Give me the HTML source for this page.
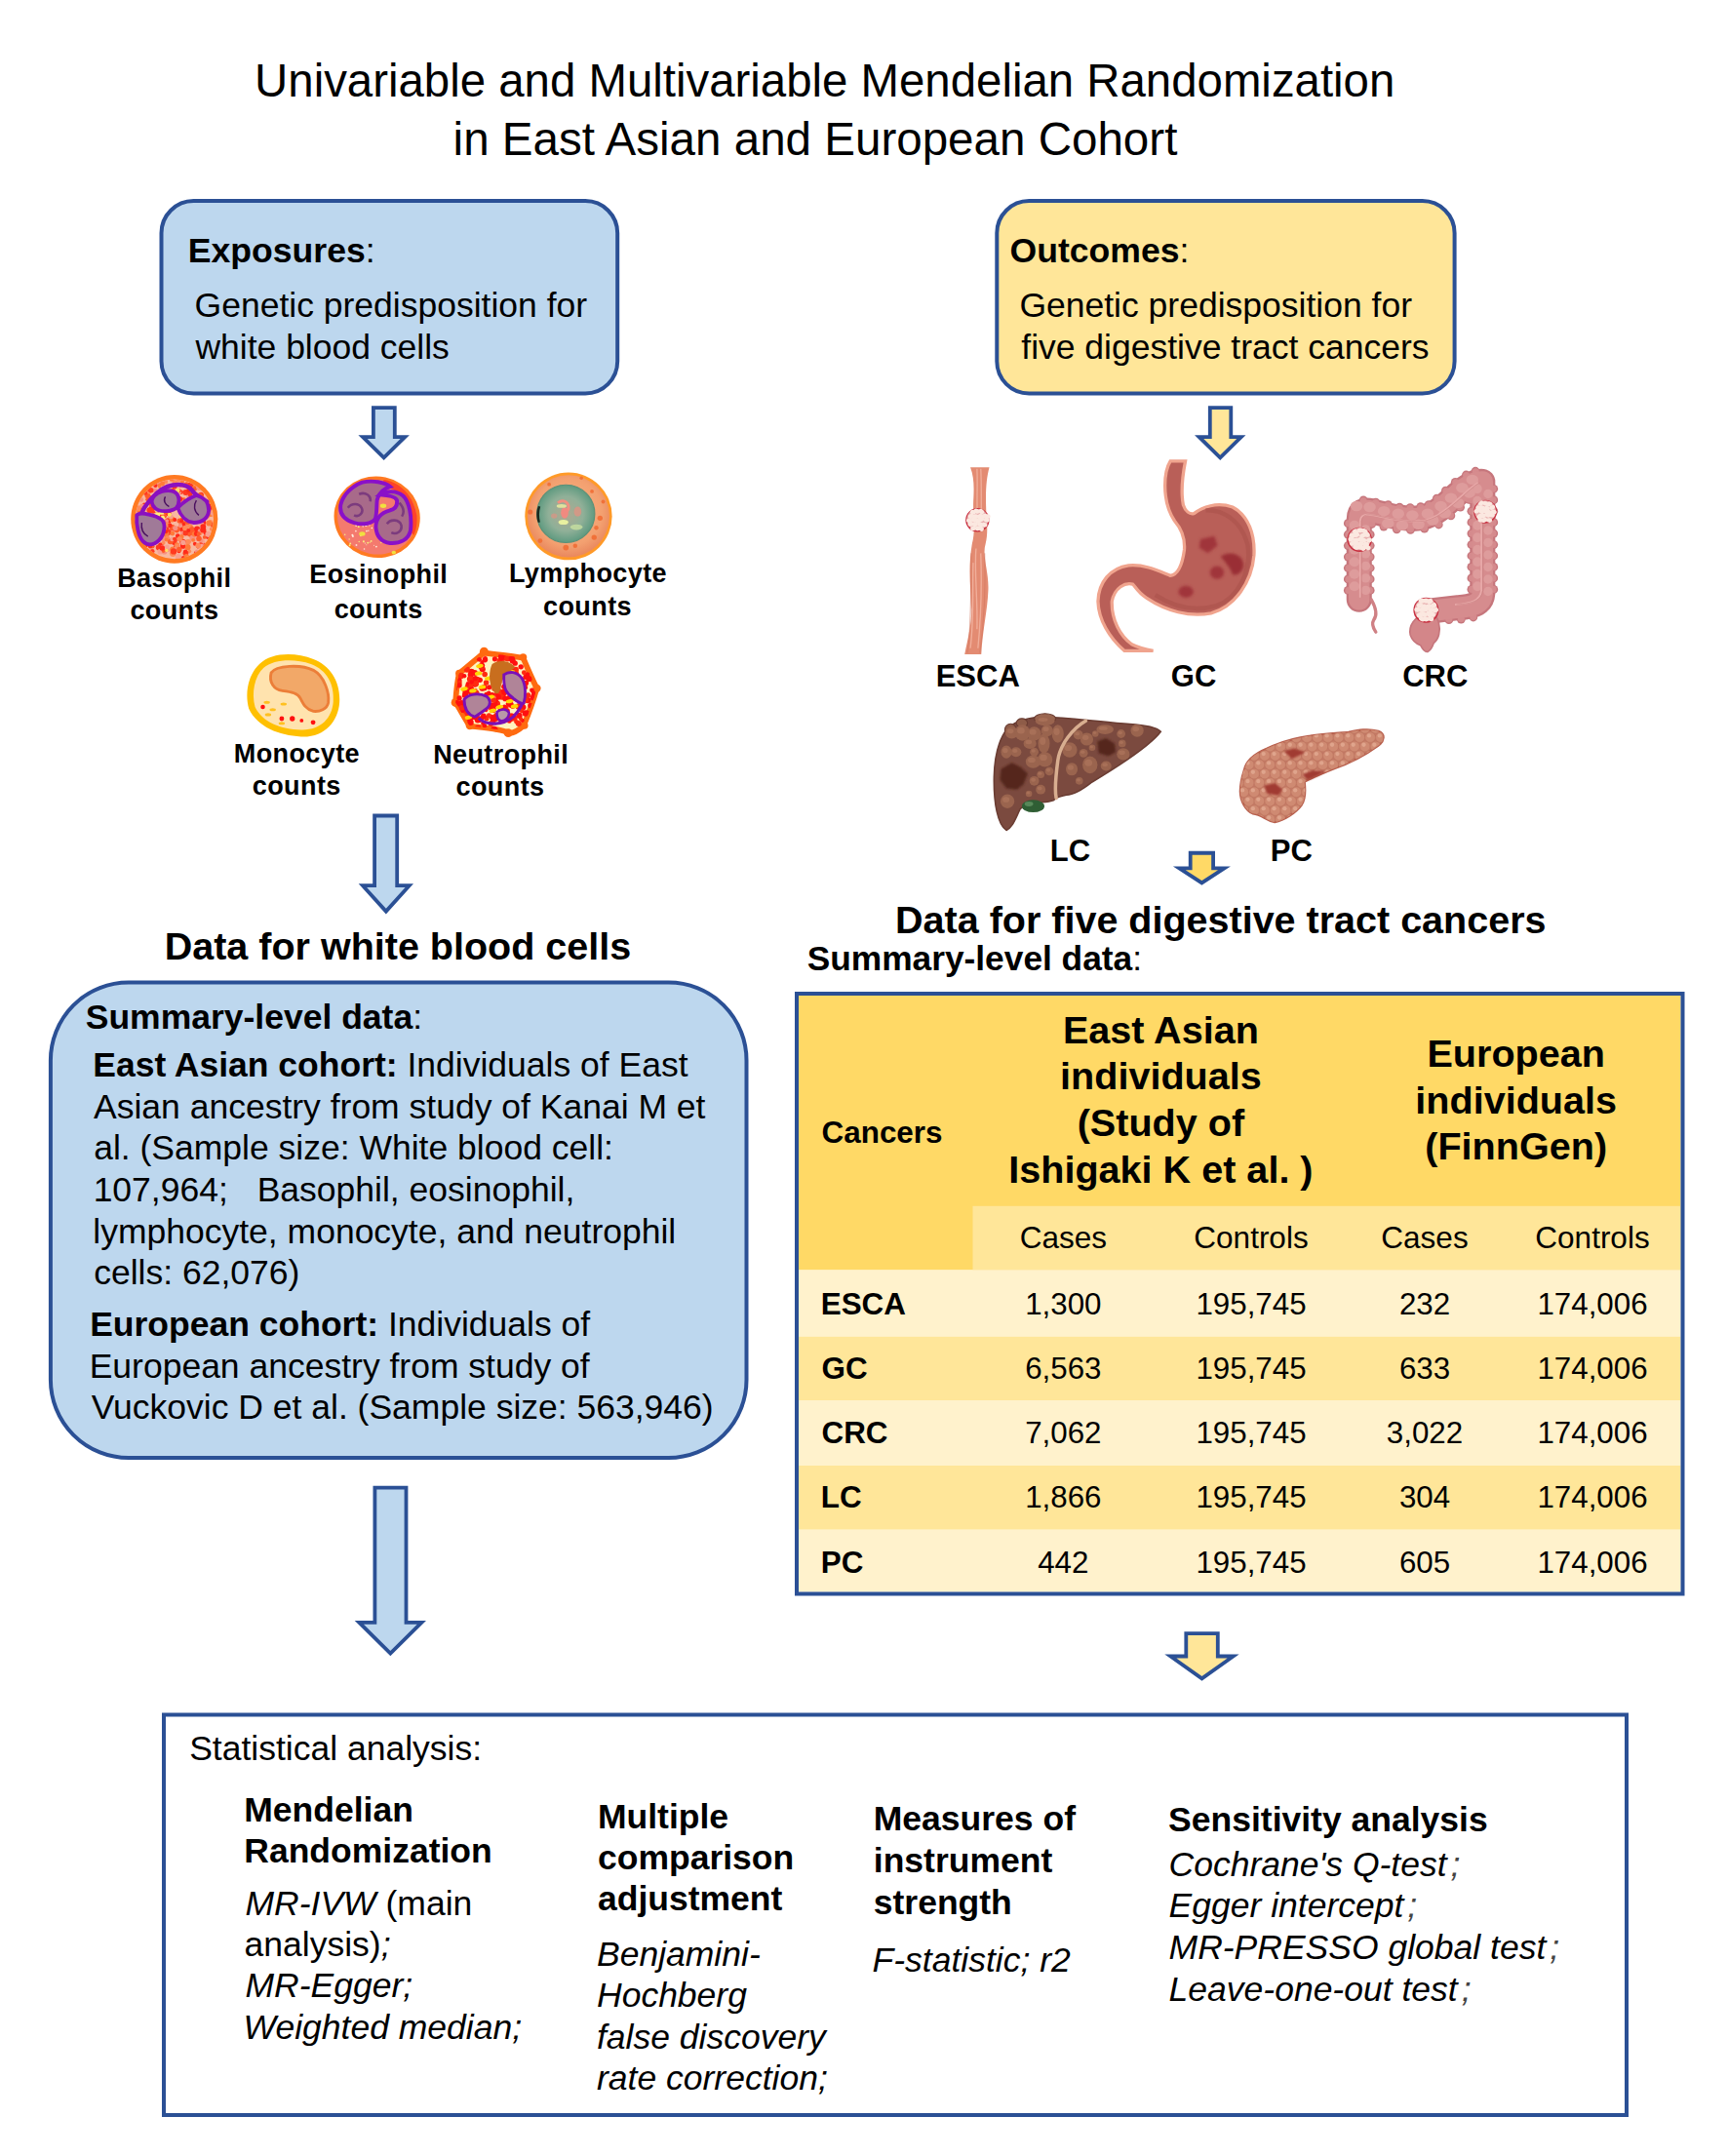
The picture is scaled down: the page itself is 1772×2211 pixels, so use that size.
<!DOCTYPE html>
<html><head><meta charset="utf-8"><title>Mendelian Randomization</title>
<style>html,body{margin:0;padding:0;background:#fff;}svg{display:block;}
text{font-family:"Liberation Sans",sans-serif;fill:#000;}</style></head>
<body><svg width="1772" height="2211" viewBox="0 0 1772 2211">
<rect width="1772" height="2211" fill="#fff"/>
<text x="261.1" y="98.6" font-size="47.38"><tspan>Univariable and Multivariable Mendelian Randomization</tspan></text>
<text x="464.6" y="158.8" font-size="47.55"><tspan>in East Asian and European Cohort</tspan></text>
<rect x="165.5" y="206.1" width="467.70000000000005" height="197.50000000000003" rx="33" fill="#BDD7EE" stroke="#2B5095" stroke-width="4"/>
<rect x="1022.3" y="206.1" width="469.29999999999995" height="197.50000000000003" rx="33" fill="#FFE699" stroke="#2B5095" stroke-width="4"/>
<text x="192.8" y="268.8" font-size="35.6"><tspan font-weight="bold">Exposures</tspan><tspan>:</tspan></text>
<text x="199.6" y="324.8" font-size="35.5"><tspan>Genetic predisposition for</tspan></text>
<text x="200.4" y="367.5" font-size="35.5"><tspan>white blood cells</tspan></text>
<text x="1035.5" y="268.8" font-size="35.6"><tspan font-weight="bold">Outcomes</tspan><tspan>:</tspan></text>
<text x="1045.42" y="324.8" font-size="35.5"><tspan>Genetic predisposition for</tspan></text>
<text x="1047.27" y="367.5" font-size="35.5"><tspan>five digestive tract cancers</tspan></text>
<path d="M382.90,418.10 L404.80,418.10 L404.80,448.10 L415.24,448.10 L393.65,469.24 L372.06,448.10 L382.90,448.10 Z" fill="#BDD7EE" stroke="#2B5095" stroke-width="3.8" stroke-miterlimit="20"/>
<path d="M1240.80,418.10 L1262.30,418.10 L1262.30,448.10 L1272.84,448.10 L1251.25,469.24 L1229.66,448.10 L1240.80,448.10 Z" fill="#FFE699" stroke="#2B5095" stroke-width="3.8" stroke-miterlimit="20"/>
<path d="M384.10,836.50 L407.20,836.50 L407.20,908.20 L419.72,908.20 L395.85,934.57 L371.98,908.20 L384.10,908.20 Z" fill="#BDD7EE" stroke="#2B5095" stroke-width="3.8" stroke-miterlimit="20"/>
<path d="M1220.70,874.75 L1244.10,874.75 L1244.10,890.30 L1255.53,890.30 L1232.40,905.43 L1209.27,890.30 L1220.70,890.30 Z" fill="#FFD966" stroke="#2B5095" stroke-width="3.8" stroke-miterlimit="20"/>
<path d="M384.40,1525.60 L416.50,1525.60 L416.50,1663.90 L432.38,1663.90 L400.35,1695.63 L368.32,1663.90 L384.40,1663.90 Z" fill="#BDD7EE" stroke="#2B5095" stroke-width="3.8" stroke-miterlimit="20"/>
<path d="M1216.30,1675.10 L1248.80,1675.10 L1248.80,1698.50 L1264.74,1698.50 L1232.50,1721.37 L1200.26,1698.50 L1216.30,1698.50 Z" fill="#FFE699" stroke="#2B5095" stroke-width="3.8" stroke-miterlimit="20"/>
<g transform="translate(125,480) scale(0.063654)">
<defs><clipPath id="basoClip"><ellipse cx="845" cy="822" rx="628" ry="640"/></clipPath></defs>
<ellipse cx="845" cy="822" rx="700" ry="712" fill="#FF7A22"/>
<ellipse cx="845" cy="822" rx="630" ry="642" fill="#F8B8A0"/>
<g clip-path="url(#basoClip)"><circle cx="734" cy="1048" r="43" fill="#FF2A1A"/><circle cx="930" cy="642" r="42" fill="#FF3A20"/><circle cx="886" cy="1008" r="38" fill="#FF5A2A"/><circle cx="1196" cy="1051" r="47" fill="#FF2A1A"/><circle cx="1326" cy="655" r="42" fill="#FF2A1A"/><circle cx="488" cy="631" r="50" fill="#FF2A1A"/><circle cx="626" cy="739" r="38" fill="#FF3A20"/><circle cx="1107" cy="1065" r="46" fill="#FF5A2A"/><circle cx="1231" cy="1118" r="34" fill="#FF2A1A"/><circle cx="692" cy="774" r="31" fill="#FF5A2A"/><circle cx="378" cy="833" r="46" fill="#F8A090"/><circle cx="475" cy="598" r="36" fill="#F89080"/><circle cx="1086" cy="1341" r="32" fill="#FF8A5A"/><circle cx="254" cy="726" r="45" fill="#FF8A5A"/><circle cx="711" cy="711" r="40" fill="#FF5A2A"/><circle cx="856" cy="569" r="40" fill="#FF2A1A"/><circle cx="1018" cy="779" r="41" fill="#F89080"/><circle cx="1099" cy="565" r="44" fill="#FF3A20"/><circle cx="274" cy="834" r="31" fill="#FF2A1A"/><circle cx="1259" cy="670" r="43" fill="#FF2A1A"/><circle cx="803" cy="463" r="42" fill="#FF7A3A"/><circle cx="994" cy="510" r="38" fill="#FF7A3A"/><circle cx="490" cy="1339" r="37" fill="#FF3A20"/><circle cx="960" cy="928" r="45" fill="#FF5A2A"/><circle cx="816" cy="413" r="48" fill="#F8A090"/><circle cx="1220" cy="1033" r="41" fill="#FF5A2A"/><circle cx="1096" cy="274" r="36" fill="#F8A090"/><circle cx="1372" cy="776" r="38" fill="#FF5A2A"/><circle cx="1002" cy="1044" r="35" fill="#FF5A2A"/><circle cx="1427" cy="867" r="34" fill="#FF8A5A"/><circle cx="1259" cy="833" r="37" fill="#FF3A20"/><circle cx="750" cy="1031" r="47" fill="#FF3A20"/><circle cx="535" cy="360" r="39" fill="#F89080"/><circle cx="957" cy="225" r="46" fill="#F8A090"/><circle cx="523" cy="1066" r="40" fill="#F8A090"/><circle cx="999" cy="886" r="34" fill="#FF5A2A"/><circle cx="1227" cy="1143" r="32" fill="#FF3A20"/><circle cx="964" cy="990" r="37" fill="#FF2A1A"/><circle cx="1109" cy="949" r="38" fill="#FF7A3A"/><circle cx="840" cy="1205" r="37" fill="#FF2A1A"/><circle cx="1180" cy="1123" r="50" fill="#F8A090"/><circle cx="658" cy="841" r="32" fill="#FF8A5A"/><circle cx="818" cy="373" r="44" fill="#FF3A20"/><circle cx="1463" cy="914" r="41" fill="#FF5A2A"/><circle cx="620" cy="244" r="45" fill="#FF8A5A"/><circle cx="1434" cy="741" r="44" fill="#FF8A5A"/><circle cx="239" cy="751" r="37" fill="#FF5A2A"/><circle cx="292" cy="705" r="37" fill="#FF5A2A"/><circle cx="415" cy="445" r="45" fill="#FF5A2A"/><circle cx="1045" cy="270" r="45" fill="#FF5A2A"/><circle cx="984" cy="1256" r="45" fill="#FF2A1A"/><circle cx="955" cy="389" r="34" fill="#FF3A20"/><circle cx="1257" cy="705" r="49" fill="#FF8A5A"/><circle cx="1216" cy="712" r="34" fill="#FF5A2A"/><circle cx="480" cy="893" r="40" fill="#FF3A20"/><circle cx="1083" cy="443" r="43" fill="#F89080"/><circle cx="481" cy="357" r="32" fill="#F8A090"/><circle cx="957" cy="271" r="40" fill="#FF5A2A"/><circle cx="378" cy="1031" r="32" fill="#FF7A3A"/><circle cx="523" cy="1073" r="49" fill="#FF7A3A"/><circle cx="1191" cy="1366" r="31" fill="#FF3A20"/><circle cx="1320" cy="493" r="33" fill="#F89080"/><circle cx="482" cy="568" r="49" fill="#FF5A2A"/><circle cx="624" cy="751" r="30" fill="#FF7A3A"/><circle cx="571" cy="441" r="49" fill="#F8A090"/><circle cx="1126" cy="798" r="47" fill="#FF2A1A"/><circle cx="841" cy="1174" r="35" fill="#FF3A20"/><circle cx="628" cy="1248" r="47" fill="#FF2A1A"/><circle cx="1166" cy="615" r="39" fill="#FF3A20"/><circle cx="1028" cy="393" r="47" fill="#FF3A20"/><circle cx="1015" cy="1007" r="40" fill="#F89080"/><circle cx="590" cy="924" r="30" fill="#F89080"/><circle cx="987" cy="1020" r="42" fill="#FF2A1A"/><circle cx="502" cy="693" r="40" fill="#FF3A20"/><circle cx="284" cy="885" r="48" fill="#FF2A1A"/><circle cx="848" cy="1164" r="45" fill="#FF3A20"/><circle cx="743" cy="854" r="48" fill="#FF2A1A"/><circle cx="376" cy="1000" r="40" fill="#FF3A20"/><circle cx="950" cy="1147" r="40" fill="#F89080"/><circle cx="230" cy="909" r="44" fill="#FF8A5A"/><circle cx="1380" cy="536" r="34" fill="#F8A090"/><circle cx="990" cy="994" r="39" fill="#FF2A1A"/><circle cx="646" cy="448" r="34" fill="#FF8A5A"/><circle cx="973" cy="220" r="33" fill="#FF7A3A"/><circle cx="605" cy="514" r="35" fill="#FF5A2A"/><circle cx="1139" cy="760" r="49" fill="#F8A090"/><circle cx="1039" cy="648" r="43" fill="#FF5A2A"/><circle cx="1067" cy="1185" r="40" fill="#FF8A5A"/><circle cx="509" cy="1006" r="32" fill="#FF8A5A"/><circle cx="1318" cy="881" r="39" fill="#FF2A1A"/><circle cx="501" cy="1133" r="36" fill="#FF2A1A"/><circle cx="1311" cy="1228" r="35" fill="#FF2A1A"/><circle cx="1133" cy="993" r="48" fill="#FF5A2A"/><circle cx="815" cy="1054" r="38" fill="#FF7A3A"/><circle cx="982" cy="522" r="33" fill="#FF3A20"/><circle cx="361" cy="589" r="32" fill="#FF2A1A"/><circle cx="929" cy="557" r="48" fill="#FF8A5A"/><circle cx="1317" cy="626" r="46" fill="#FF2A1A"/><circle cx="610" cy="629" r="35" fill="#FF2A1A"/><circle cx="488" cy="930" r="41" fill="#FF8A5A"/><circle cx="749" cy="728" r="44" fill="#FF2A1A"/><circle cx="1166" cy="758" r="34" fill="#FF8A5A"/><circle cx="523" cy="479" r="34" fill="#F8A090"/><circle cx="575" cy="822" r="37" fill="#FF2A1A"/><circle cx="968" cy="818" r="30" fill="#FF3A20"/><circle cx="581" cy="733" r="39" fill="#F8A090"/><circle cx="1300" cy="1186" r="39" fill="#F8A090"/><circle cx="267" cy="648" r="49" fill="#FF8A5A"/><circle cx="603" cy="226" r="37" fill="#F89080"/><circle cx="1248" cy="447" r="33" fill="#FF8A5A"/><circle cx="1427" cy="754" r="30" fill="#FF7A3A"/><circle cx="826" cy="494" r="33" fill="#FF2A1A"/><circle cx="644" cy="476" r="40" fill="#FF8A5A"/><circle cx="412" cy="507" r="31" fill="#FF5A2A"/><circle cx="1080" cy="1185" r="35" fill="#FF8A5A"/><circle cx="1311" cy="740" r="35" fill="#FF8A5A"/><circle cx="900" cy="1094" r="37" fill="#FF2A1A"/><circle cx="397" cy="895" r="34" fill="#FF3A20"/><circle cx="877" cy="629" r="46" fill="#FF5A2A"/><circle cx="740" cy="900" r="30" fill="#FF8A5A"/><circle cx="717" cy="685" r="49" fill="#F89080"/><circle cx="847" cy="295" r="44" fill="#FF3A20"/><circle cx="564" cy="1059" r="50" fill="#FF5A2A"/><circle cx="738" cy="1322" r="33" fill="#F89080"/><circle cx="1154" cy="294" r="43" fill="#FF7A3A"/><circle cx="707" cy="382" r="48" fill="#F89080"/><circle cx="260" cy="806" r="46" fill="#F89080"/><circle cx="623" cy="287" r="44" fill="#FF7A3A"/><circle cx="729" cy="674" r="31" fill="#FF7A3A"/><circle cx="712" cy="984" r="47" fill="#FF3A20"/><circle cx="928" cy="850" r="41" fill="#FF5A2A"/><circle cx="808" cy="825" r="46" fill="#FF7A3A"/><circle cx="1398" cy="569" r="32" fill="#FF3A20"/><circle cx="1348" cy="1047" r="35" fill="#FF2A1A"/><circle cx="1021" cy="563" r="45" fill="#FF5A2A"/><circle cx="805" cy="181" r="40" fill="#F8A090"/><circle cx="1386" cy="1110" r="36" fill="#FF2A1A"/><circle cx="464" cy="473" r="32" fill="#FF5A2A"/><circle cx="591" cy="1279" r="44" fill="#FF3A20"/><circle cx="780" cy="792" r="31" fill="#FF8A5A"/><circle cx="1044" cy="787" r="34" fill="#F8A090"/><circle cx="728" cy="1274" r="39" fill="#F8A090"/><circle cx="914" cy="178" r="41" fill="#FF8A5A"/><circle cx="1458" cy="736" r="30" fill="#F8A090"/><circle cx="1249" cy="1036" r="50" fill="#FF8A5A"/><circle cx="381" cy="1228" r="49" fill="#FF2A1A"/><circle cx="635" cy="702" r="40" fill="#FF8A5A"/><circle cx="1235" cy="1258" r="40" fill="#FF2A1A"/><circle cx="756" cy="523" r="48" fill="#F8A090"/><circle cx="644" cy="982" r="49" fill="#FF7A3A"/><circle cx="510" cy="931" r="33" fill="#FF8A5A"/><circle cx="687" cy="981" r="37" fill="#FF8A5A"/><circle cx="848" cy="227" r="32" fill="#FF5A2A"/><circle cx="705" cy="221" r="36" fill="#FF8A5A"/><circle cx="1212" cy="983" r="47" fill="#FF2A1A"/><circle cx="577" cy="1148" r="36" fill="#FF2A1A"/><circle cx="817" cy="967" r="43" fill="#FF7A3A"/><circle cx="1139" cy="694" r="35" fill="#FF3A20"/><circle cx="620" cy="1346" r="46" fill="#F8A090"/><circle cx="1276" cy="433" r="43" fill="#FF3A20"/><circle cx="328" cy="654" r="31" fill="#FF7A3A"/><circle cx="420" cy="1093" r="33" fill="#F89080"/><circle cx="813" cy="962" r="49" fill="#FF5A2A"/><circle cx="1042" cy="1190" r="36" fill="#FF8A5A"/><circle cx="801" cy="181" r="35" fill="#FF7A3A"/><circle cx="877" cy="1273" r="43" fill="#FF2A1A"/><circle cx="973" cy="1049" r="34" fill="#F89080"/><circle cx="545" cy="828" r="48" fill="#F89080"/><circle cx="618" cy="897" r="34" fill="#FF2A1A"/><circle cx="1062" cy="1253" r="36" fill="#FF8A5A"/><circle cx="820" cy="1312" r="48" fill="#FF7A3A"/><circle cx="1117" cy="530" r="45" fill="#FF5A2A"/><circle cx="579" cy="1086" r="31" fill="#FF8A5A"/><circle cx="502" cy="646" r="44" fill="#FF3A20"/><circle cx="437" cy="383" r="34" fill="#FF8A5A"/><circle cx="1161" cy="579" r="43" fill="#F8A090"/><circle cx="1410" cy="651" r="47" fill="#FF2A1A"/><circle cx="1136" cy="1126" r="45" fill="#F89080"/><circle cx="361" cy="905" r="30" fill="#F8A090"/><circle cx="1403" cy="556" r="41" fill="#F8A090"/><circle cx="1159" cy="766" r="32" fill="#FF5A2A"/><circle cx="1209" cy="1345" r="32" fill="#F89080"/><circle cx="754" cy="307" r="45" fill="#F8A090"/><circle cx="1331" cy="1114" r="30" fill="#FF5A2A"/><circle cx="912" cy="1442" r="43" fill="#FF8A5A"/><circle cx="1338" cy="702" r="41" fill="#F8A090"/><circle cx="777" cy="616" r="31" fill="#FF3A20"/><circle cx="1108" cy="723" r="35" fill="#F89080"/><circle cx="792" cy="783" r="36" fill="#F8A090"/><circle cx="781" cy="1182" r="47" fill="#FF5A2A"/><circle cx="539" cy="871" r="35" fill="#F8A090"/><circle cx="745" cy="476" r="30" fill="#F8A090"/><circle cx="1231" cy="476" r="32" fill="#FF5A2A"/><circle cx="540" cy="279" r="35" fill="#FF2A1A"/><circle cx="664" cy="303" r="37" fill="#F8A090"/><circle cx="1028" cy="1372" r="45" fill="#FF3A20"/><circle cx="1256" cy="1010" r="34" fill="#F89080"/><circle cx="976" cy="539" r="34" fill="#F89080"/><circle cx="1007" cy="685" r="42" fill="#FF3A20"/><circle cx="961" cy="1106" r="38" fill="#FF7A3A"/><circle cx="1308" cy="996" r="48" fill="#FF2A1A"/><circle cx="991" cy="1446" r="33" fill="#FF2A1A"/><circle cx="776" cy="552" r="39" fill="#FF7A3A"/><circle cx="1253" cy="450" r="50" fill="#FF5A2A"/><circle cx="713" cy="1068" r="49" fill="#FF7A3A"/><circle cx="495" cy="895" r="45" fill="#F89080"/><circle cx="586" cy="1089" r="33" fill="#FF2A1A"/><circle cx="1005" cy="909" r="38" fill="#FF2A1A"/><circle cx="328" cy="610" r="38" fill="#F89080"/><circle cx="1097" cy="291" r="39" fill="#FF2A1A"/><circle cx="766" cy="546" r="41" fill="#F8A090"/><circle cx="980" cy="1189" r="48" fill="#FF2A1A"/><circle cx="629" cy="584" r="43" fill="#F8A090"/><circle cx="961" cy="853" r="31" fill="#FF2A1A"/><circle cx="821" cy="1383" r="48" fill="#FF8A5A"/><circle cx="604" cy="1107" r="49" fill="#FF2A1A"/><circle cx="804" cy="1371" r="36" fill="#FF8A5A"/><circle cx="685" cy="1350" r="42" fill="#F89080"/><circle cx="431" cy="351" r="30" fill="#FF5A2A"/><circle cx="1268" cy="1165" r="39" fill="#F89080"/><circle cx="602" cy="1035" r="39" fill="#F8A090"/><circle cx="1148" cy="1161" r="30" fill="#FF7A3A"/><circle cx="670" cy="1333" r="33" fill="#FF5A2A"/><circle cx="675" cy="1146" r="37" fill="#F89080"/><circle cx="467" cy="559" r="38" fill="#FF5A2A"/><circle cx="848" cy="987" r="31" fill="#FF3A20"/><circle cx="598" cy="750" r="39" fill="#FF2A1A"/><circle cx="1173" cy="796" r="32" fill="#FF2A1A"/><circle cx="285" cy="1130" r="49" fill="#FF5A2A"/><circle cx="886" cy="1240" r="42" fill="#FF7A3A"/><circle cx="889" cy="1297" r="45" fill="#F89080"/><circle cx="1270" cy="1233" r="36" fill="#FF3A20"/><circle cx="809" cy="1148" r="35" fill="#F8A090"/><circle cx="850" cy="1144" r="33" fill="#FF3A20"/><circle cx="907" cy="975" r="35" fill="#FF5A2A"/><circle cx="537" cy="808" r="46" fill="#FF7A3A"/><circle cx="725" cy="850" r="30" fill="#F89080"/><circle cx="896" cy="1254" r="37" fill="#FF8A5A"/><circle cx="860" cy="967" r="42" fill="#F89080"/><circle cx="310" cy="509" r="37" fill="#F89080"/><circle cx="1063" cy="1276" r="45" fill="#FF7A3A"/><circle cx="1041" cy="751" r="42" fill="#FF3A20"/><circle cx="772" cy="924" r="37" fill="#FF2A1A"/><circle cx="937" cy="1137" r="42" fill="#FF7A3A"/><circle cx="1340" cy="520" r="46" fill="#F8A090"/><circle cx="725" cy="570" r="36" fill="#FF5A2A"/><circle cx="1287" cy="912" r="40" fill="#F8A090"/><circle cx="1168" cy="1065" r="41" fill="#FF7A3A"/><circle cx="340" cy="711" r="38" fill="#FF8A5A"/><circle cx="558" cy="1008" r="36" fill="#FF2A1A"/><circle cx="661" cy="1274" r="37" fill="#F8A090"/><circle cx="1402" cy="887" r="46" fill="#FF7A3A"/><circle cx="1023" cy="1346" r="34" fill="#FF2A1A"/><circle cx="613" cy="925" r="32" fill="#FF2A1A"/><circle cx="345" cy="1161" r="39" fill="#FF5A2A"/><circle cx="945" cy="930" r="33" fill="#F89080"/><circle cx="1006" cy="718" r="42" fill="#FF8A5A"/><circle cx="824" cy="554" r="37" fill="#FF5A2A"/><circle cx="235" cy="739" r="32" fill="#F8A090"/><circle cx="858" cy="244" r="46" fill="#FF8A5A"/><circle cx="1280" cy="1273" r="50" fill="#F8A090"/><circle cx="648" cy="1288" r="43" fill="#FF2A1A"/><circle cx="1261" cy="532" r="46" fill="#FF5A2A"/><circle cx="468" cy="358" r="42" fill="#FF3A20"/><circle cx="1177" cy="335" r="34" fill="#FF5A2A"/><circle cx="1444" cy="985" r="33" fill="#FF8A5A"/><circle cx="1073" cy="1048" r="44" fill="#FF5A2A"/><circle cx="1309" cy="946" r="45" fill="#FF2A1A"/><circle cx="665" cy="500" r="38" fill="#F8A090"/><circle cx="363" cy="663" r="36" fill="#F8A090"/><circle cx="731" cy="1125" r="38" fill="#FF8A5A"/><circle cx="445" cy="963" r="30" fill="#FF3A20"/><circle cx="1280" cy="783" r="39" fill="#FF3A20"/><circle cx="926" cy="390" r="34" fill="#F8A090"/><circle cx="711" cy="921" r="37" fill="#FF8A5A"/><circle cx="1202" cy="1057" r="40" fill="#FF2A1A"/><circle cx="1069" cy="881" r="48" fill="#FF8A5A"/><circle cx="924" cy="364" r="31" fill="#FF3A20"/><circle cx="1253" cy="500" r="46" fill="#FF2A1A"/><circle cx="1243" cy="315" r="45" fill="#F89080"/><circle cx="1024" cy="972" r="48" fill="#FF8A5A"/><circle cx="1435" cy="655" r="33" fill="#F89080"/><circle cx="791" cy="521" r="47" fill="#FF3A20"/><circle cx="855" cy="563" r="48" fill="#FF8A5A"/><circle cx="1203" cy="575" r="35" fill="#F8A090"/><circle cx="930" cy="1144" r="40" fill="#FF8A5A"/><circle cx="647" cy="1030" r="38" fill="#FF7A3A"/><circle cx="1331" cy="614" r="48" fill="#FF5A2A"/><circle cx="931" cy="499" r="45" fill="#FF2A1A"/><circle cx="594" cy="527" r="47" fill="#FF3A20"/><circle cx="319" cy="750" r="48" fill="#FF8A5A"/><circle cx="1352" cy="799" r="38" fill="#F89080"/><circle cx="574" cy="1110" r="37" fill="#FF5A2A"/><circle cx="488" cy="1259" r="39" fill="#FF5A2A"/><circle cx="376" cy="400" r="36" fill="#FF3A20"/><circle cx="833" cy="1342" r="50" fill="#FF3A20"/><circle cx="1391" cy="555" r="45" fill="#FF7A3A"/><circle cx="1087" cy="875" r="42" fill="#F8A090"/><circle cx="509" cy="1016" r="31" fill="#F8A090"/><circle cx="919" cy="1342" r="30" fill="#FF2A1A"/><circle cx="523" cy="675" r="40" fill="#FF3A20"/><circle cx="924" cy="1312" r="42" fill="#FF5A2A"/><circle cx="456" cy="1263" r="33" fill="#FF2A1A"/><circle cx="1136" cy="698" r="33" fill="#FF2A1A"/><circle cx="1069" cy="918" r="43" fill="#FF8A5A"/><circle cx="576" cy="1015" r="30" fill="#FF7A3A"/><circle cx="1105" cy="268" r="42" fill="#FF3A20"/><circle cx="264" cy="1040" r="45" fill="#FF5A2A"/><circle cx="852" cy="833" r="31" fill="#FF2A1A"/><circle cx="586" cy="998" r="31" fill="#F89080"/><circle cx="1241" cy="1134" r="43" fill="#FF5A2A"/><circle cx="1024" cy="1048" r="42" fill="#FF3A20"/><circle cx="598" cy="487" r="42" fill="#FF3A20"/><circle cx="717" cy="1154" r="31" fill="#FF7A3A"/><circle cx="956" cy="284" r="30" fill="#F89080"/><circle cx="282" cy="1063" r="32" fill="#FF7A3A"/><circle cx="554" cy="913" r="32" fill="#FF5A2A"/><circle cx="706" cy="643" r="48" fill="#FF7A3A"/><circle cx="1152" cy="705" r="31" fill="#FF7A3A"/><circle cx="446" cy="680" r="46" fill="#FF3A20"/><circle cx="1188" cy="760" r="49" fill="#FF5A2A"/><circle cx="1237" cy="1059" r="33" fill="#FF5A2A"/><circle cx="1002" cy="577" r="33" fill="#FF8A5A"/><circle cx="987" cy="1201" r="42" fill="#F8A090"/><circle cx="1270" cy="539" r="44" fill="#FF7A3A"/><circle cx="1100" cy="423" r="39" fill="#FF3A20"/><circle cx="653" cy="252" r="39" fill="#FF7A3A"/><circle cx="906" cy="1430" r="46" fill="#F8A090"/><circle cx="717" cy="696" r="48" fill="#FF5A2A"/><circle cx="1055" cy="867" r="42" fill="#FF5A2A"/><circle cx="710" cy="1025" r="31" fill="#FF2A1A"/><circle cx="1176" cy="1220" r="31" fill="#FF2A1A"/><circle cx="831" cy="656" r="42" fill="#FF8A5A"/><circle cx="1041" cy="1425" r="41" fill="#FF7A3A"/><circle cx="1391" cy="1066" r="48" fill="#F8A090"/><circle cx="1072" cy="1006" r="32" fill="#FF2A1A"/><circle cx="1425" cy="628" r="45" fill="#FF2A1A"/><circle cx="1076" cy="362" r="36" fill="#FF2A1A"/><circle cx="1228" cy="1250" r="43" fill="#FF8A5A"/><circle cx="670" cy="1206" r="30" fill="#FF8A5A"/><circle cx="964" cy="766" r="40" fill="#FFE060"/><circle cx="901" cy="360" r="35" fill="#FFE060"/><circle cx="767" cy="751" r="33" fill="#FFE060"/><circle cx="658" cy="800" r="34" fill="#FFF07A"/><circle cx="574" cy="756" r="42" fill="#FFF07A"/><circle cx="558" cy="677" r="34" fill="#FFF07A"/><circle cx="721" cy="1327" r="26" fill="#FFE060"/><circle cx="425" cy="846" r="41" fill="#FFF07A"/><circle cx="1297" cy="727" r="44" fill="#FFE060"/><circle cx="634" cy="709" r="41" fill="#FFF07A"/><circle cx="646" cy="824" r="38" fill="#FFF07A"/><circle cx="249" cy="858" r="36" fill="#FFF07A"/><circle cx="597" cy="564" r="33" fill="#FFE060"/><circle cx="1248" cy="496" r="33" fill="#FFF07A"/></g>
<path d="M300,1020 C260,850 300,700 420,560 C520,430 650,300 820,275 C950,255 1060,270 1130,360 C1180,430 1250,480 1370,540" fill="none" stroke="#8A10C0" stroke-width="70" stroke-linecap="round"/>
<path d="M240,760 C300,700 560,760 640,830 C720,900 680,1080 600,1160 C520,1240 420,1260 340,1180 C260,1100 230,900 240,760 Z" fill="#A07A98" stroke="#8A10C0" stroke-width="60"/>
<path d="M500,480 C560,380 720,340 840,380 C930,420 940,560 880,640 C800,700 620,720 540,650 C480,600 470,530 500,480 Z" fill="#A07A98" stroke="#8A10C0" stroke-width="60"/>
<path d="M900,640 C980,560 1080,480 1200,440 C1320,470 1400,560 1400,680 C1390,800 1300,880 1160,880 C1030,870 940,760 900,640 Z" fill="#A07A98" stroke="#8A10C0" stroke-width="60"/>
<path d="M320,880 C310,950 320,1050 420,1100 M700,460 C660,520 700,600 760,620 M1200,520 C1150,600 1160,700 1240,760" fill="none" stroke="#4A1060" stroke-width="22"/>
</g>
<g transform="translate(330,480) scale(0.063654)">
<ellipse cx="890" cy="790" rx="695" ry="655" transform="rotate(12 890 790)" fill="#FF7A22"/>
<ellipse cx="890" cy="790" rx="640" ry="600" transform="rotate(12 890 790)" fill="#F47A6E"/>
<path d="M1000,190 C1250,230 1470,420 1530,760 C1540,900 1520,1000 1480,1080 L1400,1000 C1440,800 1380,560 1250,420 C1150,330 1050,300 960,300 Z" fill="#FF3A20" opacity="0.85"/>
<circle cx="600" cy="1187" r="11" fill="#F8F080"/><circle cx="501" cy="1099" r="15" fill="#FFF0E0"/><circle cx="900" cy="1073" r="13" fill="#F8F080"/><circle cx="766" cy="923" r="11" fill="#FFE0D0"/><circle cx="372" cy="1072" r="12" fill="#F8F080"/><circle cx="751" cy="1010" r="12" fill="#FFE0D0"/><circle cx="629" cy="1063" r="12" fill="#F8F080"/><circle cx="774" cy="1196" r="10" fill="#F8F080"/><circle cx="913" cy="947" r="14" fill="#FFF0E0"/><circle cx="705" cy="932" r="11" fill="#FFF0E0"/><circle cx="674" cy="1184" r="16" fill="#F8F080"/><circle cx="930" cy="1097" r="13" fill="#FFF0E0"/><circle cx="449" cy="1245" r="14" fill="#F8F080"/><circle cx="696" cy="1210" r="9" fill="#FFF0E0"/><circle cx="684" cy="1303" r="12" fill="#FFF0E0"/><circle cx="459" cy="1216" r="14" fill="#F8F080"/><circle cx="987" cy="1086" r="8" fill="#FFE0D0"/><circle cx="548" cy="1015" r="14" fill="#FFE0D0"/><circle cx="663" cy="939" r="13" fill="#FFF0E0"/><circle cx="593" cy="945" r="15" fill="#F8F080"/><circle cx="640" cy="907" r="13" fill="#F8F080"/><circle cx="956" cy="1202" r="10" fill="#F8F080"/><circle cx="982" cy="1182" r="14" fill="#F8F080"/><circle cx="721" cy="1015" r="15" fill="#FFE0D0"/><circle cx="442" cy="1148" r="11" fill="#F8F080"/><circle cx="552" cy="926" r="15" fill="#FFE0D0"/><circle cx="806" cy="965" r="12" fill="#FFF0E0"/><circle cx="1061" cy="1138" r="9" fill="#FFF0E0"/><circle cx="627" cy="1092" r="13" fill="#F8F080"/><circle cx="841" cy="1246" r="8" fill="#FFE0D0"/><circle cx="493" cy="1081" r="16" fill="#FFF0E0"/><circle cx="940" cy="1094" r="12" fill="#FFF0E0"/><circle cx="717" cy="929" r="13" fill="#FFE0D0"/><circle cx="720" cy="1237" r="8" fill="#FFE0D0"/><circle cx="1047" cy="1012" r="13" fill="#F8F080"/><circle cx="741" cy="1204" r="14" fill="#F8F080"/><circle cx="1172" cy="1061" r="16" fill="#FFE0D0"/><circle cx="796" cy="1177" r="14" fill="#F8F080"/><circle cx="878" cy="1265" r="14" fill="#FFF0E0"/><circle cx="557" cy="1240" r="15" fill="#FFE0D0"/>
<ellipse cx="650" cy="1060" rx="50" ry="35" fill="#F0E040"/><ellipse cx="1160" cy="1360" rx="35" ry="30" fill="#F0E040"/><ellipse cx="990" cy="610" rx="50" ry="35" fill="#F0E040"/>
<path d="M300,640 C300,480 460,300 650,230 C820,190 1020,230 1100,300 C1000,330 920,400 890,520 C880,620 890,740 860,820 C800,900 650,920 520,880 C380,840 300,760 300,640 Z" fill="#A86A8A" stroke="#8A10C8" stroke-width="62"/>
<path d="M940,430 C1040,360 1200,360 1300,440 C1420,540 1450,800 1430,1000 C1400,1160 1250,1220 1100,1210 C950,1190 880,1100 870,950 C870,820 950,720 1100,680 C1190,660 1220,600 1210,520 C1190,460 1080,440 940,430 Z" fill="#A86A8A" stroke="#8A10C8" stroke-width="62"/>
<path d="M420,640 C480,560 600,560 640,640 C680,720 600,800 520,760 M600,420 C700,380 800,440 780,540 M1050,900 C1100,820 1250,820 1280,920 C1300,1020 1200,1080 1120,1040 M1250,560 C1320,640 1330,720 1290,780" fill="none" stroke="#70307A" stroke-width="40" opacity="0.8"/>
</g>
<g transform="translate(530,475) scale(0.063654)">
<defs><radialGradient id="lymCyt" cx="50%" cy="45%" r="55%"><stop offset="0" stop-color="#F8B888"/><stop offset="0.75" stop-color="#F3A070"/><stop offset="1" stop-color="#E9875E"/></radialGradient><radialGradient id="lymNuc" cx="50%" cy="50%" r="50%"><stop offset="0" stop-color="#B0A890"/><stop offset="0.6" stop-color="#90B098"/><stop offset="1" stop-color="#5F9A80"/></radialGradient></defs>
<ellipse cx="832" cy="855" rx="702" ry="705" fill="#FF9A28"/>
<ellipse cx="832" cy="855" rx="660" ry="662" fill="url(#lymCyt)"/>
<circle cx="215" cy="785" r="40" fill="#F06A30" opacity="0.85"/>
<circle cx="375" cy="1250" r="38" fill="#F06A30" opacity="0.85"/>
<circle cx="790" cy="1360" r="45" fill="#F06A30" opacity="0.85"/>
<circle cx="940" cy="1330" r="35" fill="#F06A30" opacity="0.85"/>
<circle cx="1245" cy="1195" r="42" fill="#F06A30" opacity="0.85"/>
<circle cx="1340" cy="885" r="42" fill="#F06A30" opacity="0.85"/>
<circle cx="1210" cy="455" r="30" fill="#F06A30" opacity="0.85"/>
<circle cx="1040" cy="240" r="28" fill="#F06A30" opacity="0.85"/>
<circle cx="520" cy="340" r="30" fill="#F06A30" opacity="0.85"/>
<circle cx="1390" cy="620" r="30" fill="#F06A30" opacity="0.85"/>
<circle cx="1280" cy="1040" r="35" fill="#F06A30" opacity="0.85"/>
<circle cx="790" cy="815" r="465" fill="url(#lymNuc)" stroke="#5A9078" stroke-width="18"/>
<path d="M345,690 C310,770 310,880 345,960 L375,950 C355,870 355,780 380,700 Z" fill="#1A2A20"/>
<path d="M660,640 C720,590 800,600 830,680 C850,760 780,820 720,790" fill="none" stroke="#F09080" stroke-width="45"/>
<ellipse cx="770" cy="800" rx="60" ry="90" fill="#F08A80"/><ellipse cx="980" cy="780" rx="60" ry="80" fill="#E89080" opacity="0.7"/><ellipse cx="600" cy="850" rx="50" ry="40" fill="#E89080" opacity="0.6"/>
<ellipse cx="750" cy="950" rx="80" ry="40" fill="#E8F0A0"/><ellipse cx="960" cy="1030" rx="100" ry="45" fill="#C8E0A0" opacity="0.8"/><ellipse cx="720" cy="690" rx="80" ry="30" fill="#F0F0A0" opacity="0.8"/>
</g>
<g transform="translate(245,660) scale(0.063654)">
<path d="M330,330 C520,140 900,130 1200,250 C1480,360 1640,620 1620,950 C1600,1250 1380,1520 1000,1500 C650,1480 300,1350 160,1050 C90,800 150,500 330,330 Z" fill="#FFC000"/>
<path d="M400,390 C560,250 900,240 1160,330 C1420,430 1540,650 1520,940 C1500,1200 1320,1400 1000,1390 C680,1380 380,1270 260,1020 C200,800 250,520 400,390 Z" fill="#FFE3AE"/>
<path d="M520,470 C600,350 1000,330 1200,430 C1380,530 1460,800 1440,950 C1420,1060 1300,1100 1200,1090 C1080,1060 1040,980 990,880 C950,800 850,780 700,760 C560,740 480,620 520,470 Z" fill="#F2A868" stroke="#EC7E38" stroke-width="45"/>
<circle cx="385" cy="1020" r="36" fill="#FF1010"/>
<circle cx="690" cy="1210" r="38" fill="#FF1010"/>
<circle cx="860" cy="1210" r="42" fill="#FF1010"/>
<circle cx="1010" cy="1240" r="30" fill="#FF1010"/>
<circle cx="1195" cy="1270" r="38" fill="#FF1010"/>
<ellipse cx="450" cy="945" rx="50" ry="24" fill="#FFC020"/>
<ellipse cx="720" cy="975" rx="50" ry="24" fill="#FFC020"/>
<ellipse cx="545" cy="1065" rx="50" ry="24" fill="#FFC020"/>
<ellipse cx="470" cy="1145" rx="50" ry="24" fill="#FFC020"/>
<ellipse cx="690" cy="1285" rx="50" ry="24" fill="#FFC020"/>
</g>
<g transform="translate(455,660) scale(0.063654)">
<path d="M650,150 C800,170 1100,200 1280,230 C1330,350 1420,560 1500,720 C1450,900 1360,1150 1290,1320 C1200,1400 1100,1450 1040,1440 C950,1380 700,1360 420,1330 C330,1200 260,1050 190,950 C200,800 220,600 250,480 C380,380 520,250 650,150 Z" fill="#FFF3C0" stroke="#FF6A10" stroke-width="90" stroke-linejoin="round"/>
<circle cx="650" cy="130" r="70" fill="#FF6A10"/>
<circle cx="1280" cy="220" r="60" fill="#FF6A10"/>
<circle cx="1500" cy="720" r="65" fill="#FF6A10"/>
<circle cx="1300" cy="1320" r="60" fill="#FF6A10"/>
<circle cx="1040" cy="1440" r="70" fill="#FF6A10"/>
<circle cx="420" cy="1320" r="65" fill="#FF6A10"/>
<circle cx="190" cy="950" r="70" fill="#FF6A10"/>
<circle cx="250" cy="480" r="60" fill="#FF6A10"/>
<defs><clipPath id="neuClip"><path d="M650,150 C800,170 1100,200 1280,230 C1330,350 1420,560 1500,720 C1450,900 1360,1150 1290,1320 C1200,1400 1100,1450 1040,1440 C950,1380 700,1360 420,1330 C330,1200 260,1050 190,950 C200,800 220,600 250,480 C380,380 520,250 650,150 Z"/></clipPath></defs>
<g clip-path="url(#neuClip)"><circle cx="474" cy="867" r="43" fill="#FF1010"/><circle cx="903" cy="383" r="48" fill="#FF1010"/><circle cx="776" cy="1178" r="37" fill="#FF1010"/><circle cx="625" cy="412" r="48" fill="#FF1010"/><circle cx="490" cy="1190" r="38" fill="#FF1010"/><circle cx="353" cy="1015" r="45" fill="#FF1010"/><circle cx="1025" cy="1080" r="40" fill="#FF1010"/><circle cx="1111" cy="279" r="48" fill="#FF1010"/><circle cx="445" cy="730" r="44" fill="#FF2A10"/><circle cx="1452" cy="844" r="45" fill="#FF1010"/><circle cx="436" cy="504" r="49" fill="#FF1010"/><circle cx="883" cy="440" r="35" fill="#FF1010"/><circle cx="889" cy="555" r="50" fill="#FF2A10"/><circle cx="1013" cy="773" r="50" fill="#FF2A10"/><circle cx="961" cy="248" r="36" fill="#FF2A10"/><circle cx="862" cy="969" r="49" fill="#FF2A10"/><circle cx="1179" cy="490" r="37" fill="#FF1010"/><circle cx="1028" cy="423" r="43" fill="#FF1010"/><circle cx="578" cy="848" r="42" fill="#FF1010"/><circle cx="1077" cy="1213" r="47" fill="#FF1010"/><circle cx="1060" cy="443" r="43" fill="#FF2A10"/><circle cx="691" cy="1205" r="41" fill="#FF2A10"/><circle cx="1282" cy="1026" r="45" fill="#FF1010"/><circle cx="958" cy="817" r="47" fill="#FF1010"/><circle cx="892" cy="623" r="42" fill="#FF1010"/><circle cx="1358" cy="911" r="45" fill="#FF1010"/><circle cx="1257" cy="1082" r="39" fill="#FF2A10"/><circle cx="235" cy="602" r="38" fill="#FF1010"/><circle cx="393" cy="1016" r="49" fill="#FF1010"/><circle cx="540" cy="1144" r="39" fill="#FF1010"/><circle cx="1086" cy="539" r="36" fill="#FF1010"/><circle cx="917" cy="456" r="38" fill="#FF1010"/><circle cx="1266" cy="1239" r="34" fill="#FF1010"/><circle cx="431" cy="1074" r="40" fill="#FF2A10"/><circle cx="1159" cy="904" r="32" fill="#FF1010"/><circle cx="1016" cy="416" r="47" fill="#FF1010"/><circle cx="971" cy="226" r="44" fill="#FF2A10"/><circle cx="1142" cy="1206" r="46" fill="#FF2A10"/><circle cx="932" cy="861" r="45" fill="#FF2A10"/><circle cx="836" cy="603" r="36" fill="#FF1010"/><circle cx="638" cy="893" r="51" fill="#FF1010"/><circle cx="419" cy="1213" r="48" fill="#FF2A10"/><circle cx="670" cy="242" r="36" fill="#FF1010"/><circle cx="642" cy="1170" r="45" fill="#FF1010"/><circle cx="350" cy="806" r="48" fill="#FF1010"/><circle cx="265" cy="529" r="41" fill="#FF1010"/><circle cx="607" cy="368" r="52" fill="#FF2A10"/><circle cx="1265" cy="749" r="40" fill="#FF1010"/><circle cx="1207" cy="1012" r="50" fill="#FF2A10"/><circle cx="865" cy="804" r="46" fill="#FF1010"/><circle cx="1420" cy="752" r="36" fill="#FF1010"/><circle cx="880" cy="860" r="46" fill="#FF1010"/><circle cx="286" cy="963" r="50" fill="#FF1010"/><circle cx="903" cy="282" r="49" fill="#FF2A10"/><circle cx="841" cy="465" r="43" fill="#FF1010"/><circle cx="212" cy="947" r="37" fill="#FF1010"/><circle cx="806" cy="735" r="32" fill="#FF2A10"/><circle cx="622" cy="351" r="40" fill="#FF1010"/><circle cx="786" cy="549" r="49" fill="#FF1010"/><circle cx="537" cy="580" r="51" fill="#FF2A10"/><circle cx="324" cy="992" r="35" fill="#FF1010"/><circle cx="479" cy="1177" r="45" fill="#FF1010"/><circle cx="253" cy="879" r="41" fill="#FF1010"/><circle cx="926" cy="344" r="38" fill="#FF1010"/><circle cx="442" cy="453" r="48" fill="#FF2A10"/><circle cx="571" cy="1220" r="52" fill="#FF1010"/><circle cx="529" cy="596" r="41" fill="#FF1010"/><circle cx="436" cy="1159" r="44" fill="#FF1010"/><circle cx="942" cy="491" r="32" fill="#FF1010"/><circle cx="791" cy="1044" r="50" fill="#FF1010"/><circle cx="762" cy="1026" r="50" fill="#FF2A10"/><circle cx="1207" cy="1289" r="48" fill="#FF2A10"/><circle cx="572" cy="257" r="39" fill="#FF1010"/><circle cx="382" cy="693" r="40" fill="#FF2A10"/><circle cx="1106" cy="675" r="44" fill="#FF2A10"/><circle cx="387" cy="1119" r="51" fill="#FF2A10"/><circle cx="824" cy="248" r="41" fill="#FF1010"/><circle cx="443" cy="717" r="33" fill="#FF1010"/><circle cx="280" cy="518" r="50" fill="#FF2A10"/><circle cx="620" cy="1198" r="36" fill="#FF1010"/><circle cx="918" cy="1046" r="46" fill="#FF1010"/><circle cx="476" cy="625" r="48" fill="#FF1010"/><circle cx="834" cy="1395" r="42" fill="#FF1010"/><circle cx="514" cy="1105" r="34" fill="#FF1010"/><circle cx="507" cy="591" r="42" fill="#FF1010"/><circle cx="1064" cy="956" r="49" fill="#FF2A10"/><circle cx="332" cy="840" r="37" fill="#FF1010"/><circle cx="255" cy="1071" r="47" fill="#FF2A10"/><circle cx="1139" cy="729" r="33" fill="#FF1010"/><circle cx="1220" cy="787" r="33" fill="#FF1010"/><circle cx="252" cy="596" r="41" fill="#FF1010"/><circle cx="1159" cy="424" r="50" fill="#FF2A10"/><circle cx="1139" cy="720" r="43" fill="#FF2A10"/><circle cx="1347" cy="1118" r="42" fill="#FF1010"/><circle cx="574" cy="879" r="51" fill="#FF2A10"/><circle cx="843" cy="920" r="37" fill="#FF1010"/><circle cx="1270" cy="968" r="33" fill="#FF1010"/><circle cx="797" cy="1244" r="47" fill="#FF1010"/><circle cx="1052" cy="881" r="47" fill="#FF1010"/><circle cx="662" cy="496" r="44" fill="#FF2A10"/><circle cx="1112" cy="1017" r="37" fill="#FF1010"/><circle cx="537" cy="1070" r="41" fill="#FF1010"/><circle cx="1347" cy="500" r="41" fill="#FF1010"/><circle cx="898" cy="566" r="49" fill="#FF1010"/><circle cx="1374" cy="567" r="50" fill="#FF1010"/><circle cx="933" cy="203" r="51" fill="#FF1010"/><circle cx="1102" cy="389" r="41" fill="#FF1010"/><circle cx="682" cy="1069" r="34" fill="#FF1010"/><circle cx="1011" cy="1028" r="33" fill="#FF2A10"/><circle cx="235" cy="976" r="41" fill="#FF1010"/><circle cx="777" cy="1196" r="35" fill="#FF1010"/><circle cx="501" cy="654" r="48" fill="#FF1010"/><circle cx="454" cy="820" r="50" fill="#FF1010"/><circle cx="1086" cy="1165" r="45" fill="#FF2A10"/><circle cx="1254" cy="590" r="49" fill="#FF1010"/><circle cx="806" cy="1078" r="39" fill="#FF1010"/><circle cx="1445" cy="793" r="34" fill="#FF1010"/><circle cx="594" cy="926" r="49" fill="#FF1010"/><circle cx="1140" cy="1191" r="41" fill="#FF2A10"/><circle cx="688" cy="995" r="32" fill="#FF2A10"/><circle cx="732" cy="1162" r="33" fill="#FF1010"/><circle cx="917" cy="1259" r="35" fill="#FF1010"/><circle cx="511" cy="760" r="36" fill="#FF2A10"/><circle cx="989" cy="888" r="44" fill="#FF1010"/><circle cx="839" cy="541" r="35" fill="#FF2A10"/><circle cx="666" cy="261" r="44" fill="#FF1010"/><circle cx="1360" cy="833" r="42" fill="#FF2A10"/><circle cx="1225" cy="576" r="39" fill="#FF1010"/><circle cx="1150" cy="317" r="42" fill="#FF1010"/><circle cx="342" cy="1092" r="35" fill="#FF2A10"/><circle cx="791" cy="1066" r="49" fill="#FF1010"/><circle cx="1350" cy="919" r="43" fill="#FF1010"/><circle cx="432" cy="1270" r="51" fill="#FF1010"/><circle cx="1219" cy="1161" r="48" fill="#FF1010"/><circle cx="930" cy="232" r="44" fill="#FF1010"/><circle cx="765" cy="997" r="47" fill="#FF1010"/><circle cx="348" cy="762" r="43" fill="#FF1010"/><circle cx="828" cy="984" r="44" fill="#FF1010"/><circle cx="1080" cy="987" r="48" fill="#FF1010"/><circle cx="1441" cy="873" r="47" fill="#FF1010"/><circle cx="1320" cy="853" r="44" fill="#FF2A10"/><circle cx="852" cy="1212" r="39" fill="#FF1010"/><circle cx="792" cy="671" r="34" fill="#FF1010"/><circle cx="333" cy="522" r="34" fill="#FF1010"/><circle cx="620" cy="928" r="44" fill="#FF1010"/><circle cx="1116" cy="1175" r="47" fill="#FF1010"/><circle cx="904" cy="773" r="45" fill="#FF2A10"/><circle cx="297" cy="1072" r="43" fill="#FF1010"/><circle cx="966" cy="774" r="39" fill="#FF1010"/><circle cx="843" cy="1158" r="41" fill="#FF2A10"/><circle cx="1028" cy="242" r="48" fill="#FF2A10"/><circle cx="1261" cy="947" r="51" fill="#FF1010"/><circle cx="822" cy="1203" r="45" fill="#FF1010"/><circle cx="1038" cy="970" r="38" fill="#FF1010"/><circle cx="726" cy="797" r="35" fill="#FF1010"/><circle cx="925" cy="208" r="45" fill="#FF1010"/><circle cx="1329" cy="906" r="37" fill="#FF2A10"/><circle cx="452" cy="456" r="48" fill="#FF1010"/><circle cx="585" cy="586" r="42" fill="#FF1010"/><circle cx="831" cy="923" r="34" fill="#FF1010"/><circle cx="685" cy="628" r="44" fill="#FF2A10"/><circle cx="974" cy="695" r="44" fill="#FF1010"/><circle cx="388" cy="963" r="50" fill="#FF1010"/><circle cx="519" cy="648" r="47" fill="#FF2A10"/><circle cx="249" cy="637" r="44" fill="#FF2A10"/><circle cx="892" cy="1179" r="43" fill="#FF1010"/><circle cx="353" cy="912" r="44" fill="#FF1010"/><circle cx="868" cy="701" r="39" fill="#FF1010"/><circle cx="419" cy="770" r="44" fill="#FF1010"/><circle cx="1053" cy="685" r="51" fill="#FF1010"/><circle cx="393" cy="649" r="38" fill="#FF1010"/><circle cx="659" cy="1323" r="35" fill="#FF1010"/><circle cx="518" cy="574" r="45" fill="#FF2A10"/><circle cx="492" cy="1066" r="47" fill="#FF1010"/><circle cx="179" cy="719" r="46" fill="#FF1010"/><circle cx="360" cy="1053" r="35" fill="#FF1010"/><circle cx="374" cy="419" r="48" fill="#FF2A10"/><circle cx="1317" cy="1123" r="50" fill="#FF1010"/><circle cx="760" cy="1289" r="45" fill="#FF2A10"/><circle cx="1243" cy="1215" r="32" fill="#FF2A10"/><circle cx="426" cy="575" r="51" fill="#FF2A10"/><circle cx="1173" cy="1262" r="38" fill="#FF2A10"/><circle cx="507" cy="561" r="41" fill="#FF1010"/><circle cx="729" cy="1158" r="39" fill="#FF2A10"/><circle cx="441" cy="669" r="38" fill="#FF2A10"/><circle cx="1089" cy="445" r="41" fill="#FF1010"/><circle cx="253" cy="672" r="41" fill="#FF1010"/><circle cx="652" cy="710" r="50" fill="#FF1010"/><circle cx="1317" cy="706" r="37" fill="#FF1010"/><circle cx="940" cy="1188" r="50" fill="#FF1010"/><circle cx="1145" cy="850" r="50" fill="#FF1010"/><circle cx="1321" cy="538" r="43" fill="#FF1010"/><circle cx="355" cy="751" r="46" fill="#FF1010"/><circle cx="692" cy="828" r="46" fill="#FF1010"/><circle cx="1326" cy="636" r="43" fill="#FF1010"/><circle cx="432" cy="1036" r="45" fill="#FF2A10"/><circle cx="980" cy="1022" r="40" fill="#FF1010"/><circle cx="342" cy="980" r="52" fill="#FF1010"/><circle cx="618" cy="300" r="34" fill="#FF1010"/><circle cx="553" cy="1358" r="49" fill="#FF2A10"/><circle cx="1057" cy="1248" r="38" fill="#FF1010"/><circle cx="1097" cy="243" r="50" fill="#FF1010"/><circle cx="500" cy="471" r="48" fill="#FF1010"/><circle cx="538" cy="792" r="36" fill="#FF2A10"/><circle cx="625" cy="720" r="43" fill="#FF2A10"/><circle cx="733" cy="704" r="40" fill="#FF1010"/><circle cx="631" cy="1283" r="32" fill="#FF1010"/><circle cx="657" cy="917" r="32" fill="#FF1010"/><circle cx="971" cy="1213" r="43" fill="#FF1010"/><circle cx="1244" cy="375" r="42" fill="#FF1010"/><circle cx="448" cy="621" r="34" fill="#FF1010"/><circle cx="359" cy="749" r="33" fill="#FF1010"/><circle cx="1045" cy="1193" r="48" fill="#FF2A10"/><circle cx="293" cy="1034" r="45" fill="#FF2A10"/><circle cx="868" cy="451" r="46" fill="#FF1010"/><circle cx="801" cy="911" r="45" fill="#FF2A10"/><circle cx="1083" cy="905" r="44" fill="#FF1010"/><circle cx="1398" cy="997" r="44" fill="#FF1010"/><circle cx="344" cy="981" r="37" fill="#FF1010"/><circle cx="1088" cy="1200" r="35" fill="#FF1010"/><circle cx="1293" cy="468" r="38" fill="#FF2A10"/><circle cx="812" cy="1384" r="52" fill="#FF1010"/><circle cx="838" cy="1187" r="46" fill="#FF1010"/><circle cx="469" cy="1002" r="46" fill="#FF1010"/><circle cx="905" cy="505" r="35" fill="#FF1010"/><circle cx="779" cy="837" r="50" fill="#FF1010"/><circle cx="616" cy="721" r="43" fill="#FF1010"/><circle cx="550" cy="1229" r="51" fill="#FF1010"/><circle cx="997" cy="473" r="37" fill="#FF1010"/><circle cx="447" cy="875" r="41" fill="#FF1010"/><ellipse cx="580" cy="360" rx="60" ry="32" fill="#FFD600" transform="rotate(-10 580 360)"/><ellipse cx="330" cy="730" rx="60" ry="32" fill="#FFD600" transform="rotate(-10 330 730)"/><ellipse cx="470" cy="760" rx="60" ry="32" fill="#FFD600" transform="rotate(-10 470 760)"/><ellipse cx="620" cy="700" rx="60" ry="32" fill="#FFD600" transform="rotate(-10 620 700)"/><ellipse cx="560" cy="480" rx="60" ry="32" fill="#FFD600" transform="rotate(-10 560 480)"/><ellipse cx="760" cy="860" rx="60" ry="32" fill="#FFD600" transform="rotate(-10 760 860)"/><ellipse cx="1060" cy="930" rx="60" ry="32" fill="#FFD600" transform="rotate(-10 1060 930)"/><ellipse cx="1140" cy="1010" rx="60" ry="32" fill="#FFD600" transform="rotate(-10 1140 1010)"/><ellipse cx="790" cy="1080" rx="60" ry="32" fill="#FFD600" transform="rotate(-10 790 1080)"/><ellipse cx="900" cy="1020" rx="60" ry="32" fill="#FFD600" transform="rotate(-10 900 1020)"/><ellipse cx="400" cy="1190" rx="60" ry="32" fill="#FFD600" transform="rotate(-10 400 1190)"/><ellipse cx="1090" cy="460" rx="60" ry="32" fill="#FFD600" transform="rotate(-10 1090 460)"/><ellipse cx="720" cy="560" rx="60" ry="32" fill="#FFD600" transform="rotate(-10 720 560)"/></g>
<path d="M780,330 C900,250 1080,270 1150,390 C1060,450 960,500 930,650 C905,780 890,820 830,800 C720,700 720,450 780,330 Z" fill="#C86E1E"/>
<path d="M560,1200 C700,1330 950,1320 1120,1180 C1240,1060 1290,950 1300,820" fill="none" stroke="#7A10B8" stroke-width="50"/>
<path d="M970,500 C1060,440 1180,450 1260,560 C1330,680 1320,860 1290,960 C1230,980 1180,930 1120,880 C1020,810 960,750 970,500 Z" fill="#B08498" stroke="#7A10B8" stroke-width="45"/>
<path d="M330,900 C400,810 560,790 690,850 C760,900 760,980 700,1040 C620,1100 560,1150 500,1180 C400,1150 330,1060 330,900 Z" fill="#B08498" stroke="#7A10B8" stroke-width="45"/>
<path d="M860,1100 C920,1050 1010,1040 1050,1110 C1060,1180 1000,1240 930,1250 C870,1230 850,1170 860,1100 Z" fill="#B89AA8" stroke="#7A10B8" stroke-width="40"/>
</g><g transform="translate(960,470) scale(0.097371)">
<path d="M360,95 L560,95 C530,200 520,350 525,500 C525,620 555,760 520,900 C480,1030 560,1200 548,1400 C540,1600 490,1800 475,2065 L300,2065 C335,1900 372,1750 372,1600 C362,1350 335,1150 378,900 C418,760 385,600 392,450 C400,300 400,200 360,95 Z" fill="#E38B72"/>
<path d="M430,110 C440,300 420,500 440,700 M470,110 C480,300 470,500 480,700 M420,950 C400,1200 440,1500 430,1800 M470,1000 C480,1300 480,1600 440,2000 M390,1100 C380,1400 400,1700 360,2000" fill="none" stroke="#F4B6A4" stroke-width="14" opacity="0.8"/>
<path d="M370,1000 C360,1300 380,1700 330,2050 M510,1000 C520,1300 510,1700 460,2050" fill="none" stroke="#D27860" stroke-width="12" opacity="0.6"/>
<circle cx="435" cy="650" r="125" fill="#C83040"/><circle cx="435" cy="645" r="112" fill="#E8B0B0"/><ellipse cx="388" cy="567" rx="31" ry="24" transform="rotate(10 388 567)" fill="#FBE8E0"/><ellipse cx="428" cy="557" rx="31" ry="24" transform="rotate(27 428 557)" fill="#FBE8E0"/><ellipse cx="476" cy="561" rx="31" ry="24" transform="rotate(40 476 561)" fill="#FBE8E0"/><ellipse cx="367" cy="610" rx="31" ry="24" transform="rotate(-28 367 610)" fill="#FBE8E0"/><ellipse cx="415" cy="613" rx="31" ry="24" transform="rotate(2 415 613)" fill="#FBE8E0"/><ellipse cx="461" cy="610" rx="31" ry="24" transform="rotate(-35 461 610)" fill="#FBE8E0"/><ellipse cx="507" cy="609" rx="31" ry="24" transform="rotate(-16 507 609)" fill="#FBE8E0"/><ellipse cx="540" cy="613" rx="31" ry="24" transform="rotate(-2 540 613)" fill="#FBE8E0"/><ellipse cx="349" cy="656" rx="31" ry="24" transform="rotate(17 349 656)" fill="#FBE8E0"/><ellipse cx="397" cy="648" rx="31" ry="24" transform="rotate(24 397 648)" fill="#FBE8E0"/><ellipse cx="434" cy="657" rx="31" ry="24" transform="rotate(30 434 657)" fill="#FBE8E0"/><ellipse cx="474" cy="644" rx="31" ry="24" transform="rotate(-23 474 644)" fill="#FBE8E0"/><ellipse cx="532" cy="649" rx="31" ry="24" transform="rotate(10 532 649)" fill="#FBE8E0"/><ellipse cx="364" cy="693" rx="31" ry="24" transform="rotate(-9 364 693)" fill="#FBE8E0"/><ellipse cx="410" cy="694" rx="31" ry="24" transform="rotate(7 410 694)" fill="#FBE8E0"/><ellipse cx="464" cy="695" rx="31" ry="24" transform="rotate(34 464 695)" fill="#FBE8E0"/><ellipse cx="508" cy="700" rx="31" ry="24" transform="rotate(14 508 700)" fill="#FBE8E0"/><ellipse cx="391" cy="738" rx="31" ry="24" transform="rotate(-23 391 738)" fill="#FBE8E0"/><ellipse cx="440" cy="736" rx="31" ry="24" transform="rotate(-17 440 736)" fill="#FBE8E0"/><ellipse cx="473" cy="741" rx="31" ry="24" transform="rotate(39 473 741)" fill="#FBE8E0"/>
</g>
<g transform="translate(1110,465) scale(0.109951)">
<path d="M820,72 L960,72 C935,200 915,350 940,480 C960,540 1000,570 1040,560 C1120,500 1250,450 1400,500 C1550,580 1610,760 1600,950 C1580,1200 1420,1430 1200,1490 C1000,1530 780,1470 600,1350 C520,1300 490,1240 470,1220 C400,1200 300,1250 275,1380 C270,1550 350,1700 460,1780 C520,1810 600,1830 660,1840 L390,1840 C250,1720 150,1550 145,1380 C150,1200 260,1070 430,1045 C580,1030 720,1100 820,1140 C890,1130 930,1050 950,900 C960,780 920,700 860,630 C800,540 770,420 770,300 C770,200 790,120 820,72 Z" fill="#B95F58" stroke="#F0A48E" stroke-width="30" stroke-linejoin="miter" stroke-miterlimit="3"/>
<path d="M1150,530 C1300,520 1480,620 1540,850 C1580,1100 1450,1350 1250,1420 C1050,1480 850,1430 680,1320" fill="none" stroke="#A9504A" stroke-width="40" opacity="0.55"/>
<defs><filter id="blurS" x="-30%" y="-30%" width="160%" height="160%"><feGaussianBlur stdDeviation="14"/></filter></defs><g filter="url(#blurS)">
<path d="M1100,800 L1230,770 L1260,860 L1170,930 L1090,880 Z" fill="#A0343A"/>
<path d="M1290,960 C1380,900 1480,940 1500,1020 C1510,1100 1450,1140 1400,1130 C1380,1060 1330,1020 1290,960 Z" fill="#9A2E34"/>
<ellipse cx="1255" cy="1110" rx="65" ry="60" fill="#A0343A"/><ellipse cx="965" cy="1290" rx="70" ry="55" fill="#A0343A"/></g>
</g>
<g transform="translate(1365,470) scale(0.104167)">
<path d="M276,1390 L276,600 C276,520 320,500 400,520 C560,560 700,600 850,590 C1000,575 1100,480 1200,390 C1300,300 1400,220 1491,230 L1491,1330 C1485,1420 1420,1460 1250,1470 L1000,1500" fill="none" stroke="#C6767C" stroke-width="250" stroke-linecap="round" stroke-linejoin="round"/>
<circle cx="166" cy="640" r="42" fill="#C6767C"/><circle cx="386" cy="640" r="42" fill="#C6767C"/><circle cx="166" cy="750" r="42" fill="#C6767C"/><circle cx="386" cy="750" r="42" fill="#C6767C"/><circle cx="166" cy="860" r="42" fill="#C6767C"/><circle cx="386" cy="860" r="42" fill="#C6767C"/><circle cx="166" cy="970" r="42" fill="#C6767C"/><circle cx="386" cy="970" r="42" fill="#C6767C"/><circle cx="166" cy="1080" r="42" fill="#C6767C"/><circle cx="386" cy="1080" r="42" fill="#C6767C"/><circle cx="166" cy="1190" r="42" fill="#C6767C"/><circle cx="386" cy="1190" r="42" fill="#C6767C"/><circle cx="166" cy="1300" r="42" fill="#C6767C"/><circle cx="386" cy="1300" r="42" fill="#C6767C"/><circle cx="1381" cy="300" r="42" fill="#C6767C"/><circle cx="1601" cy="300" r="42" fill="#C6767C"/><circle cx="1381" cy="410" r="42" fill="#C6767C"/><circle cx="1601" cy="410" r="42" fill="#C6767C"/><circle cx="1381" cy="520" r="42" fill="#C6767C"/><circle cx="1601" cy="520" r="42" fill="#C6767C"/><circle cx="1381" cy="630" r="42" fill="#C6767C"/><circle cx="1601" cy="630" r="42" fill="#C6767C"/><circle cx="1381" cy="740" r="42" fill="#C6767C"/><circle cx="1601" cy="740" r="42" fill="#C6767C"/><circle cx="1381" cy="850" r="42" fill="#C6767C"/><circle cx="1601" cy="850" r="42" fill="#C6767C"/><circle cx="1381" cy="960" r="42" fill="#C6767C"/><circle cx="1601" cy="960" r="42" fill="#C6767C"/><circle cx="1381" cy="1070" r="42" fill="#C6767C"/><circle cx="1601" cy="1070" r="42" fill="#C6767C"/><circle cx="1381" cy="1180" r="42" fill="#C6767C"/><circle cx="1601" cy="1180" r="42" fill="#C6767C"/><circle cx="1381" cy="1290" r="42" fill="#C6767C"/><circle cx="1601" cy="1290" r="42" fill="#C6767C"/><circle cx="282" cy="629" r="42" fill="#C6767C"/><circle cx="318" cy="411" r="42" fill="#C6767C"/><circle cx="400" cy="648" r="42" fill="#C6767C"/><circle cx="440" cy="432" r="42" fill="#C6767C"/><circle cx="518" cy="673" r="42" fill="#C6767C"/><circle cx="562" cy="457" r="42" fill="#C6767C"/><circle cx="646" cy="699" r="42" fill="#C6767C"/><circle cx="674" cy="481" r="42" fill="#C6767C"/><circle cx="782" cy="705" r="42" fill="#C6767C"/><circle cx="778" cy="485" r="42" fill="#C6767C"/><circle cx="919" cy="693" r="42" fill="#C6767C"/><circle cx="881" cy="477" r="42" fill="#C6767C"/><circle cx="1059" cy="653" r="42" fill="#C6767C"/><circle cx="961" cy="457" r="42" fill="#C6767C"/><circle cx="1180" cy="565" r="42" fill="#C6767C"/><circle cx="1040" cy="395" r="42" fill="#C6767C"/><circle cx="1273" cy="482" r="42" fill="#C6767C"/><circle cx="1127" cy="318" r="42" fill="#C6767C"/><circle cx="1358" cy="407" r="42" fill="#C6767C"/><circle cx="1222" cy="233" r="42" fill="#C6767C"/><circle cx="1431" cy="357" r="42" fill="#C6767C"/><circle cx="1329" cy="163" r="42" fill="#C6767C"/><circle cx="1499" cy="333" r="42" fill="#C6767C"/><circle cx="1421" cy="127" r="42" fill="#C6767C"/><circle cx="1400" cy="1565" r="42" fill="#C6767C"/><circle cx="1280" cy="1585" r="42" fill="#C6767C"/><circle cx="1160" cy="1590" r="42" fill="#C6767C"/>
<circle cx="172" cy="640" r="34" fill="#D58A8D"/><circle cx="380" cy="640" r="34" fill="#D58A8D"/><circle cx="172" cy="750" r="34" fill="#D58A8D"/><circle cx="380" cy="750" r="34" fill="#D58A8D"/><circle cx="172" cy="860" r="34" fill="#D58A8D"/><circle cx="380" cy="860" r="34" fill="#D58A8D"/><circle cx="172" cy="970" r="34" fill="#D58A8D"/><circle cx="380" cy="970" r="34" fill="#D58A8D"/><circle cx="172" cy="1080" r="34" fill="#D58A8D"/><circle cx="380" cy="1080" r="34" fill="#D58A8D"/><circle cx="172" cy="1190" r="34" fill="#D58A8D"/><circle cx="380" cy="1190" r="34" fill="#D58A8D"/><circle cx="172" cy="1300" r="34" fill="#D58A8D"/><circle cx="380" cy="1300" r="34" fill="#D58A8D"/><circle cx="1387" cy="300" r="34" fill="#D58A8D"/><circle cx="1595" cy="300" r="34" fill="#D58A8D"/><circle cx="1387" cy="410" r="34" fill="#D58A8D"/><circle cx="1595" cy="410" r="34" fill="#D58A8D"/><circle cx="1387" cy="520" r="34" fill="#D58A8D"/><circle cx="1595" cy="520" r="34" fill="#D58A8D"/><circle cx="1387" cy="630" r="34" fill="#D58A8D"/><circle cx="1595" cy="630" r="34" fill="#D58A8D"/><circle cx="1387" cy="740" r="34" fill="#D58A8D"/><circle cx="1595" cy="740" r="34" fill="#D58A8D"/><circle cx="1387" cy="850" r="34" fill="#D58A8D"/><circle cx="1595" cy="850" r="34" fill="#D58A8D"/><circle cx="1387" cy="960" r="34" fill="#D58A8D"/><circle cx="1595" cy="960" r="34" fill="#D58A8D"/><circle cx="1387" cy="1070" r="34" fill="#D58A8D"/><circle cx="1595" cy="1070" r="34" fill="#D58A8D"/><circle cx="1387" cy="1180" r="34" fill="#D58A8D"/><circle cx="1595" cy="1180" r="34" fill="#D58A8D"/><circle cx="1387" cy="1290" r="34" fill="#D58A8D"/><circle cx="1595" cy="1290" r="34" fill="#D58A8D"/><circle cx="283" cy="623" r="34" fill="#D58A8D"/><circle cx="317" cy="417" r="34" fill="#D58A8D"/><circle cx="401" cy="642" r="34" fill="#D58A8D"/><circle cx="439" cy="438" r="34" fill="#D58A8D"/><circle cx="519" cy="667" r="34" fill="#D58A8D"/><circle cx="561" cy="463" r="34" fill="#D58A8D"/><circle cx="647" cy="693" r="34" fill="#D58A8D"/><circle cx="673" cy="487" r="34" fill="#D58A8D"/><circle cx="782" cy="699" r="34" fill="#D58A8D"/><circle cx="778" cy="491" r="34" fill="#D58A8D"/><circle cx="918" cy="687" r="34" fill="#D58A8D"/><circle cx="882" cy="483" r="34" fill="#D58A8D"/><circle cx="1057" cy="648" r="34" fill="#D58A8D"/><circle cx="963" cy="462" r="34" fill="#D58A8D"/><circle cx="1176" cy="561" r="34" fill="#D58A8D"/><circle cx="1044" cy="399" r="34" fill="#D58A8D"/><circle cx="1269" cy="478" r="34" fill="#D58A8D"/><circle cx="1131" cy="322" r="34" fill="#D58A8D"/><circle cx="1354" cy="402" r="34" fill="#D58A8D"/><circle cx="1226" cy="238" r="34" fill="#D58A8D"/><circle cx="1429" cy="352" r="34" fill="#D58A8D"/><circle cx="1331" cy="168" r="34" fill="#D58A8D"/><circle cx="1497" cy="327" r="34" fill="#D58A8D"/><circle cx="1423" cy="133" r="34" fill="#D58A8D"/><circle cx="1400" cy="1559" r="34" fill="#D58A8D"/><circle cx="1280" cy="1579" r="34" fill="#D58A8D"/><circle cx="1160" cy="1584" r="34" fill="#D58A8D"/>
<path d="M276,1390 L276,600 C276,520 320,500 400,520 C560,560 700,600 850,590 C1000,575 1100,480 1200,390 C1300,300 1400,220 1491,230 L1491,1330 C1485,1420 1420,1460 1250,1470 L1000,1500" fill="none" stroke="#D68C8E" stroke-width="206" stroke-linecap="round" stroke-linejoin="round"/>
<ellipse cx="230" cy="660" rx="50" ry="48" fill="#DE9C9C"/><ellipse cx="340" cy="700" rx="45" ry="45" fill="#DE9C9C"/><ellipse cx="230" cy="780" rx="50" ry="48" fill="#DE9C9C"/><ellipse cx="340" cy="820" rx="45" ry="45" fill="#DE9C9C"/><ellipse cx="230" cy="900" rx="50" ry="48" fill="#DE9C9C"/><ellipse cx="340" cy="940" rx="45" ry="45" fill="#DE9C9C"/><ellipse cx="230" cy="1020" rx="50" ry="48" fill="#DE9C9C"/><ellipse cx="340" cy="1060" rx="45" ry="45" fill="#DE9C9C"/><ellipse cx="230" cy="1140" rx="50" ry="48" fill="#DE9C9C"/><ellipse cx="340" cy="1180" rx="45" ry="45" fill="#DE9C9C"/><ellipse cx="230" cy="1260" rx="50" ry="48" fill="#DE9C9C"/><ellipse cx="340" cy="1300" rx="45" ry="45" fill="#DE9C9C"/><ellipse cx="1440" cy="300" rx="45" ry="48" fill="#DE9C9C"/><ellipse cx="1545" cy="350" rx="45" ry="45" fill="#DE9C9C"/><ellipse cx="1440" cy="420" rx="45" ry="48" fill="#DE9C9C"/><ellipse cx="1545" cy="470" rx="45" ry="45" fill="#DE9C9C"/><ellipse cx="1440" cy="540" rx="45" ry="48" fill="#DE9C9C"/><ellipse cx="1545" cy="590" rx="45" ry="45" fill="#DE9C9C"/><ellipse cx="1440" cy="660" rx="45" ry="48" fill="#DE9C9C"/><ellipse cx="1545" cy="710" rx="45" ry="45" fill="#DE9C9C"/><ellipse cx="1440" cy="780" rx="45" ry="48" fill="#DE9C9C"/><ellipse cx="1545" cy="830" rx="45" ry="45" fill="#DE9C9C"/><ellipse cx="1440" cy="900" rx="45" ry="48" fill="#DE9C9C"/><ellipse cx="1545" cy="950" rx="45" ry="45" fill="#DE9C9C"/><ellipse cx="1440" cy="1020" rx="45" ry="48" fill="#DE9C9C"/><ellipse cx="1545" cy="1070" rx="45" ry="45" fill="#DE9C9C"/><ellipse cx="1440" cy="1140" rx="45" ry="48" fill="#DE9C9C"/><ellipse cx="1545" cy="1190" rx="45" ry="45" fill="#DE9C9C"/><ellipse cx="1440" cy="1260" rx="45" ry="48" fill="#DE9C9C"/><ellipse cx="1545" cy="1310" rx="45" ry="45" fill="#DE9C9C"/><ellipse cx="250" cy="470" rx="60" ry="50" fill="#DE9C9C"/><ellipse cx="380" cy="480" rx="60" ry="50" fill="#DE9C9C"/><ellipse cx="520" cy="520" rx="60" ry="50" fill="#DE9C9C"/><ellipse cx="660" cy="545" rx="60" ry="50" fill="#DE9C9C"/><ellipse cx="800" cy="560" rx="60" ry="50" fill="#DE9C9C"/><ellipse cx="950" cy="545" rx="60" ry="50" fill="#DE9C9C"/><ellipse cx="1080" cy="470" rx="60" ry="50" fill="#DE9C9C"/><ellipse cx="1180" cy="390" rx="60" ry="50" fill="#DE9C9C"/><ellipse cx="1290" cy="290" rx="60" ry="50" fill="#DE9C9C"/><ellipse cx="1390" cy="210" rx="60" ry="50" fill="#DE9C9C"/><ellipse cx="560" cy="640" rx="60" ry="50" fill="#DE9C9C"/><ellipse cx="700" cy="660" rx="60" ry="50" fill="#DE9C9C"/><ellipse cx="860" cy="650" rx="60" ry="50" fill="#DE9C9C"/><ellipse cx="1000" cy="610" rx="60" ry="50" fill="#DE9C9C"/><ellipse cx="1120" cy="540" rx="60" ry="50" fill="#DE9C9C"/><ellipse cx="1250" cy="440" rx="60" ry="50" fill="#DE9C9C"/><ellipse cx="1360" cy="340" rx="60" ry="50" fill="#DE9C9C"/>
<path d="M286,1370 L286,620 C290,560 330,545 420,560 C600,600 750,630 880,620 C1010,605 1110,520 1220,430 C1310,350 1390,270 1450,240 M1480,560 L1480,1300 C1470,1400 1380,1430 1220,1440" fill="none" stroke="#E8A8A8" stroke-width="18"/>
<path d="M286,1370 L286,620 C290,560 330,545 420,560 C600,600 750,630 880,620 C1010,605 1110,520 1220,430 C1310,350 1390,270 1450,240 M1480,560 L1480,1300 C1470,1400 1380,1430 1220,1440" fill="none" stroke="#C88080" stroke-width="6" transform="translate(14,0)"/>
<path d="M940,1520 C820,1560 760,1650 780,1740 C800,1800 850,1830 880,1840 C900,1880 930,1910 950,1905 C985,1890 1000,1850 1010,1820 C1060,1780 1080,1700 1060,1620 C1045,1560 1010,1520 940,1520 Z" fill="#D38689" stroke="#C6767C" stroke-width="16"/>
<path d="M395,1390 C440,1470 460,1540 420,1590 C395,1630 420,1680 440,1710" fill="none" stroke="#CF8084" stroke-width="32" stroke-linecap="round"/>
<circle cx="280" cy="800" r="122" fill="#C83040"/><circle cx="280" cy="795" r="110" fill="#E8B0B0"/><ellipse cx="241" cy="724" rx="30" ry="23" transform="rotate(19 241 724)" fill="#FBE8E0"/><ellipse cx="287" cy="710" rx="30" ry="23" transform="rotate(-3 287 710)" fill="#FBE8E0"/><ellipse cx="331" cy="719" rx="30" ry="23" transform="rotate(32 331 719)" fill="#FBE8E0"/><ellipse cx="210" cy="759" rx="30" ry="23" transform="rotate(6 210 759)" fill="#FBE8E0"/><ellipse cx="250" cy="754" rx="30" ry="23" transform="rotate(-18 250 754)" fill="#FBE8E0"/><ellipse cx="309" cy="763" rx="30" ry="23" transform="rotate(-27 309 763)" fill="#FBE8E0"/><ellipse cx="351" cy="753" rx="30" ry="23" transform="rotate(9 351 753)" fill="#FBE8E0"/><ellipse cx="198" cy="795" rx="30" ry="23" transform="rotate(-23 198 795)" fill="#FBE8E0"/><ellipse cx="244" cy="806" rx="30" ry="23" transform="rotate(-17 244 806)" fill="#FBE8E0"/><ellipse cx="287" cy="801" rx="30" ry="23" transform="rotate(14 287 801)" fill="#FBE8E0"/><ellipse cx="319" cy="807" rx="30" ry="23" transform="rotate(15 319 807)" fill="#FBE8E0"/><ellipse cx="375" cy="806" rx="30" ry="23" transform="rotate(-16 375 806)" fill="#FBE8E0"/><ellipse cx="212" cy="836" rx="30" ry="23" transform="rotate(-28 212 836)" fill="#FBE8E0"/><ellipse cx="251" cy="838" rx="30" ry="23" transform="rotate(8 251 838)" fill="#FBE8E0"/><ellipse cx="294" cy="844" rx="30" ry="23" transform="rotate(-13 294 844)" fill="#FBE8E0"/><ellipse cx="343" cy="847" rx="30" ry="23" transform="rotate(-2 343 847)" fill="#FBE8E0"/><ellipse cx="244" cy="875" rx="30" ry="23" transform="rotate(20 244 875)" fill="#FBE8E0"/><ellipse cx="286" cy="875" rx="30" ry="23" transform="rotate(23 286 875)" fill="#FBE8E0"/><ellipse cx="322" cy="884" rx="30" ry="23" transform="rotate(-39 322 884)" fill="#FBE8E0"/><ellipse cx="361" cy="878" rx="30" ry="23" transform="rotate(36 361 878)" fill="#FBE8E0"/>
<circle cx="1518" cy="525" r="115" fill="#C83040"/><circle cx="1518" cy="520" r="104" fill="#E8B0B0"/><ellipse cx="1476" cy="443" rx="29" ry="22" transform="rotate(-40 1476 443)" fill="#FBE8E0"/><ellipse cx="1521" cy="446" rx="29" ry="22" transform="rotate(21 1521 446)" fill="#FBE8E0"/><ellipse cx="1557" cy="451" rx="29" ry="22" transform="rotate(-18 1557 451)" fill="#FBE8E0"/><ellipse cx="1455" cy="487" rx="29" ry="22" transform="rotate(15 1455 487)" fill="#FBE8E0"/><ellipse cx="1492" cy="487" rx="29" ry="22" transform="rotate(24 1492 487)" fill="#FBE8E0"/><ellipse cx="1535" cy="491" rx="29" ry="22" transform="rotate(15 1535 491)" fill="#FBE8E0"/><ellipse cx="1586" cy="483" rx="29" ry="22" transform="rotate(-33 1586 483)" fill="#FBE8E0"/><ellipse cx="1434" cy="519" rx="29" ry="22" transform="rotate(-24 1434 519)" fill="#FBE8E0"/><ellipse cx="1479" cy="522" rx="29" ry="22" transform="rotate(36 1479 522)" fill="#FBE8E0"/><ellipse cx="1519" cy="520" rx="29" ry="22" transform="rotate(12 1519 520)" fill="#FBE8E0"/><ellipse cx="1557" cy="532" rx="29" ry="22" transform="rotate(33 1557 532)" fill="#FBE8E0"/><ellipse cx="1601" cy="527" rx="29" ry="22" transform="rotate(16 1601 527)" fill="#FBE8E0"/><ellipse cx="1461" cy="572" rx="29" ry="22" transform="rotate(-38 1461 572)" fill="#FBE8E0"/><ellipse cx="1495" cy="566" rx="29" ry="22" transform="rotate(-16 1495 566)" fill="#FBE8E0"/><ellipse cx="1540" cy="558" rx="29" ry="22" transform="rotate(30 1540 558)" fill="#FBE8E0"/><ellipse cx="1581" cy="558" rx="29" ry="22" transform="rotate(13 1581 558)" fill="#FBE8E0"/><ellipse cx="1472" cy="609" rx="29" ry="22" transform="rotate(16 1472 609)" fill="#FBE8E0"/><ellipse cx="1510" cy="608" rx="29" ry="22" transform="rotate(-39 1510 608)" fill="#FBE8E0"/><ellipse cx="1557" cy="610" rx="29" ry="22" transform="rotate(10 1557 610)" fill="#FBE8E0"/>
<circle cx="935" cy="1495" r="125" fill="#C83040"/><circle cx="935" cy="1490" r="112" fill="#E8B0B0"/><ellipse cx="892" cy="1403" rx="31" ry="24" transform="rotate(3 892 1403)" fill="#FBE8E0"/><ellipse cx="933" cy="1403" rx="31" ry="24" transform="rotate(1 933 1403)" fill="#FBE8E0"/><ellipse cx="973" cy="1409" rx="31" ry="24" transform="rotate(-34 973 1409)" fill="#FBE8E0"/><ellipse cx="873" cy="1446" rx="31" ry="24" transform="rotate(-22 873 1446)" fill="#FBE8E0"/><ellipse cx="915" cy="1460" rx="31" ry="24" transform="rotate(6 915 1460)" fill="#FBE8E0"/><ellipse cx="956" cy="1460" rx="31" ry="24" transform="rotate(-36 956 1460)" fill="#FBE8E0"/><ellipse cx="1008" cy="1449" rx="31" ry="24" transform="rotate(-28 1008 1449)" fill="#FBE8E0"/><ellipse cx="850" cy="1490" rx="31" ry="24" transform="rotate(7 850 1490)" fill="#FBE8E0"/><ellipse cx="892" cy="1493" rx="31" ry="24" transform="rotate(4 892 1493)" fill="#FBE8E0"/><ellipse cx="928" cy="1488" rx="31" ry="24" transform="rotate(-24 928 1488)" fill="#FBE8E0"/><ellipse cx="983" cy="1494" rx="31" ry="24" transform="rotate(-15 983 1494)" fill="#FBE8E0"/><ellipse cx="1026" cy="1494" rx="31" ry="24" transform="rotate(-16 1026 1494)" fill="#FBE8E0"/><ellipse cx="872" cy="1541" rx="31" ry="24" transform="rotate(-20 872 1541)" fill="#FBE8E0"/><ellipse cx="914" cy="1538" rx="31" ry="24" transform="rotate(30 914 1538)" fill="#FBE8E0"/><ellipse cx="961" cy="1534" rx="31" ry="24" transform="rotate(38 961 1534)" fill="#FBE8E0"/><ellipse cx="996" cy="1536" rx="31" ry="24" transform="rotate(21 996 1536)" fill="#FBE8E0"/><ellipse cx="894" cy="1581" rx="31" ry="24" transform="rotate(30 894 1581)" fill="#FBE8E0"/><ellipse cx="932" cy="1583" rx="31" ry="24" transform="rotate(8 932 1583)" fill="#FBE8E0"/><ellipse cx="981" cy="1579" rx="31" ry="24" transform="rotate(27 981 1579)" fill="#FBE8E0"/>
</g>
<g transform="translate(1010,725) scale(0.109951)">
<path d="M210,200 C300,120 450,90 600,95 C800,100 1100,140 1350,160 C1500,170 1600,190 1640,230 C1550,350 1250,550 1000,700 C900,780 820,820 760,820 C700,830 660,850 640,870 C560,900 400,880 330,950 C280,1050 260,1120 200,1150 C120,1100 80,900 85,650 C90,450 130,300 210,200 Z" fill="#7B4A3F" stroke="#6A3C32" stroke-width="14"/>
<defs><clipPath id="lvClip"><path d="M210,200 C300,120 450,90 600,95 C800,100 1100,140 1350,160 C1500,170 1600,190 1640,230 C1550,350 1250,550 1000,700 C900,780 820,820 760,820 C700,830 660,850 640,870 C560,900 400,880 330,950 C280,1050 260,1120 200,1150 C120,1100 80,900 85,650 C90,450 130,300 210,200 Z"/></clipPath></defs>
<ellipse cx="240" cy="215" rx="55" ry="58" fill="#8E5C48" stroke="#6A3C32" stroke-width="10"/><ellipse cx="345" cy="150" rx="52" ry="42" fill="#8E5C48" stroke="#6A3C32" stroke-width="10"/><ellipse cx="560" cy="110" rx="100" ry="48" fill="#9A6650" stroke="#6A3C32" stroke-width="10"/>
<g clip-path="url(#lvClip)"><ellipse cx="250" cy="240" rx="60" ry="55" fill="#9A644E"/><ellipse cx="238" cy="226" rx="30" ry="22" fill="#A87058"/><ellipse cx="350" cy="240" rx="70" ry="75" fill="#9A644E"/><ellipse cx="336" cy="221" rx="35" ry="30" fill="#A87058"/><ellipse cx="460" cy="250" rx="65" ry="65" fill="#9A644E"/><ellipse cx="447" cy="234" rx="32" ry="26" fill="#A87058"/><ellipse cx="560" cy="130" rx="90" ry="45" fill="#9A644E"/><ellipse cx="542" cy="119" rx="45" ry="18" fill="#A87058"/><ellipse cx="580" cy="220" rx="55" ry="55" fill="#9A644E"/><ellipse cx="569" cy="206" rx="28" ry="22" fill="#A87058"/><ellipse cx="680" cy="250" rx="55" ry="85" fill="#9A644E"/><ellipse cx="669" cy="229" rx="28" ry="34" fill="#A87058"/><ellipse cx="420" cy="340" rx="60" ry="50" fill="#9A644E"/><ellipse cx="408" cy="328" rx="30" ry="20" fill="#A87058"/><ellipse cx="550" cy="340" rx="55" ry="90" fill="#9A644E"/><ellipse cx="539" cy="318" rx="28" ry="36" fill="#A87058"/><ellipse cx="200" cy="420" rx="50" ry="60" fill="#9A644E"/><ellipse cx="190" cy="405" rx="25" ry="24" fill="#A87058"/><ellipse cx="290" cy="420" rx="50" ry="45" fill="#9A644E"/><ellipse cx="280" cy="409" rx="25" ry="18" fill="#A87058"/><ellipse cx="460" cy="420" rx="40" ry="40" fill="#9A644E"/><ellipse cx="452" cy="410" rx="20" ry="16" fill="#A87058"/><ellipse cx="450" cy="510" rx="70" ry="60" fill="#9A644E"/><ellipse cx="436" cy="495" rx="35" ry="24" fill="#A87058"/><ellipse cx="560" cy="490" rx="70" ry="70" fill="#9A644E"/><ellipse cx="546" cy="472" rx="35" ry="28" fill="#A87058"/><ellipse cx="600" cy="600" rx="40" ry="40" fill="#9A644E"/><ellipse cx="592" cy="590" rx="20" ry="16" fill="#A87058"/><ellipse cx="520" cy="630" rx="35" ry="35" fill="#9A644E"/><ellipse cx="513" cy="621" rx="18" ry="14" fill="#A87058"/><ellipse cx="460" cy="690" rx="45" ry="45" fill="#9A644E"/><ellipse cx="451" cy="679" rx="22" ry="18" fill="#A87058"/><ellipse cx="520" cy="770" rx="45" ry="45" fill="#9A644E"/><ellipse cx="511" cy="759" rx="22" ry="18" fill="#A87058"/><ellipse cx="410" cy="810" rx="30" ry="30" fill="#9A644E"/><ellipse cx="404" cy="802" rx="15" ry="12" fill="#A87058"/><ellipse cx="210" cy="880" rx="65" ry="65" fill="#9A644E"/><ellipse cx="197" cy="864" rx="32" ry="26" fill="#A87058"/><ellipse cx="790" cy="400" rx="70" ry="70" fill="#9A644E"/><ellipse cx="776" cy="382" rx="35" ry="28" fill="#A87058"/><ellipse cx="950" cy="300" rx="60" ry="60" fill="#9A644E"/><ellipse cx="938" cy="285" rx="30" ry="24" fill="#A87058"/><ellipse cx="870" cy="260" rx="45" ry="45" fill="#9A644E"/><ellipse cx="861" cy="249" rx="22" ry="18" fill="#A87058"/><ellipse cx="1120" cy="210" rx="80" ry="45" fill="#9A644E"/><ellipse cx="1104" cy="199" rx="40" ry="18" fill="#A87058"/><ellipse cx="1270" cy="250" rx="40" ry="40" fill="#9A644E"/><ellipse cx="1262" cy="240" rx="20" ry="16" fill="#A87058"/><ellipse cx="1420" cy="220" rx="60" ry="60" fill="#9A644E"/><ellipse cx="1408" cy="205" rx="30" ry="24" fill="#A87058"/><ellipse cx="1030" cy="250" rx="30" ry="30" fill="#9A644E"/><ellipse cx="1024" cy="242" rx="15" ry="12" fill="#A87058"/><ellipse cx="920" cy="430" rx="40" ry="40" fill="#9A644E"/><ellipse cx="912" cy="420" rx="20" ry="16" fill="#A87058"/><ellipse cx="980" cy="540" rx="70" ry="80" fill="#9A644E"/><ellipse cx="966" cy="520" rx="35" ry="32" fill="#A87058"/><ellipse cx="1130" cy="550" rx="50" ry="45" fill="#9A644E"/><ellipse cx="1120" cy="539" rx="25" ry="18" fill="#A87058"/><ellipse cx="1290" cy="440" rx="60" ry="55" fill="#9A644E"/><ellipse cx="1278" cy="426" rx="30" ry="22" fill="#A87058"/><ellipse cx="810" cy="580" rx="55" ry="60" fill="#9A644E"/><ellipse cx="799" cy="565" rx="28" ry="24" fill="#A87058"/><ellipse cx="1280" cy="340" rx="35" ry="35" fill="#9A644E"/><ellipse cx="1273" cy="331" rx="18" ry="14" fill="#A87058"/><ellipse cx="880" cy="690" rx="35" ry="35" fill="#9A644E"/><ellipse cx="873" cy="681" rx="18" ry="14" fill="#A87058"/><ellipse cx="1000" cy="380" rx="30" ry="30" fill="#9A644E"/><ellipse cx="994" cy="372" rx="15" ry="12" fill="#A87058"/></g><defs><filter id="blurL" x="-30%" y="-30%" width="160%" height="160%"><feGaussianBlur stdDeviation="12"/></filter></defs><g filter="url(#blurL)"><path d="M150,580 L250,520 L330,560 L400,620 L360,720 L300,770 L200,760 L140,680 Z" fill="#55281F"/><path d="M1050,320 L1130,290 L1210,340 L1220,420 L1150,460 L1060,430 Z" fill="#55281F"/></g>
<ellipse cx="450" cy="925" rx="105" ry="58" fill="#2F5E34"/><ellipse cx="410" cy="905" rx="40" ry="22" fill="#6A9A6A" opacity="0.7"/>
<path d="M940,130 C820,200 700,350 680,500 C660,650 650,780 665,850" fill="none" stroke="#D8AE90" stroke-width="32" stroke-linecap="round"/>
</g>
<g transform="translate(1260,735) scale(0.098377)">
<path d="M160,560 C180,450 280,380 400,330 C550,260 700,220 850,200 C1000,170 1150,170 1250,160 C1350,140 1450,120 1560,150 C1640,180 1620,260 1560,300 C1450,380 1300,470 1100,540 C950,600 850,640 790,680 C800,760 800,860 760,920 C700,1000 580,1080 480,1100 C380,1080 350,1020 250,1010 C180,980 120,880 120,780 C120,680 140,620 160,560 Z" fill="#C47A66" stroke="#B8604E" stroke-width="22"/>
<defs><clipPath id="pcClip"><path d="M160,560 C180,450 280,380 400,330 C550,260 700,220 850,200 C1000,170 1150,170 1250,160 C1350,140 1450,120 1560,150 C1640,180 1620,260 1560,300 C1450,380 1300,470 1100,540 C950,600 850,640 790,680 C800,760 800,860 760,920 C700,1000 580,1080 480,1100 C380,1080 350,1020 250,1010 C180,980 120,880 120,780 C120,680 140,620 160,560 Z"/></clipPath></defs>
<g clip-path="url(#pcClip)"><circle cx="100" cy="120" r="54" fill="#CF8A72" stroke="#B46A58" stroke-width="5" stroke-opacity="0.5"/><circle cx="88" cy="102" r="22" fill="#E2AA92" opacity="0.8"/><circle cx="210" cy="120" r="54" fill="#CF8A72" stroke="#B46A58" stroke-width="5" stroke-opacity="0.5"/><circle cx="198" cy="102" r="22" fill="#E2AA92" opacity="0.8"/><circle cx="320" cy="120" r="54" fill="#CF8A72" stroke="#B46A58" stroke-width="5" stroke-opacity="0.5"/><circle cx="308" cy="102" r="22" fill="#E2AA92" opacity="0.8"/><circle cx="430" cy="120" r="54" fill="#CF8A72" stroke="#B46A58" stroke-width="5" stroke-opacity="0.5"/><circle cx="418" cy="102" r="22" fill="#E2AA92" opacity="0.8"/><circle cx="540" cy="120" r="54" fill="#CF8A72" stroke="#B46A58" stroke-width="5" stroke-opacity="0.5"/><circle cx="528" cy="102" r="22" fill="#E2AA92" opacity="0.8"/><circle cx="650" cy="120" r="54" fill="#CF8A72" stroke="#B46A58" stroke-width="5" stroke-opacity="0.5"/><circle cx="638" cy="102" r="22" fill="#E2AA92" opacity="0.8"/><circle cx="760" cy="120" r="54" fill="#CF8A72" stroke="#B46A58" stroke-width="5" stroke-opacity="0.5"/><circle cx="748" cy="102" r="22" fill="#E2AA92" opacity="0.8"/><circle cx="870" cy="120" r="54" fill="#CF8A72" stroke="#B46A58" stroke-width="5" stroke-opacity="0.5"/><circle cx="858" cy="102" r="22" fill="#E2AA92" opacity="0.8"/><circle cx="980" cy="120" r="54" fill="#CF8A72" stroke="#B46A58" stroke-width="5" stroke-opacity="0.5"/><circle cx="968" cy="102" r="22" fill="#E2AA92" opacity="0.8"/><circle cx="1090" cy="120" r="54" fill="#CF8A72" stroke="#B46A58" stroke-width="5" stroke-opacity="0.5"/><circle cx="1078" cy="102" r="22" fill="#E2AA92" opacity="0.8"/><circle cx="1200" cy="120" r="54" fill="#CF8A72" stroke="#B46A58" stroke-width="5" stroke-opacity="0.5"/><circle cx="1188" cy="102" r="22" fill="#E2AA92" opacity="0.8"/><circle cx="1310" cy="120" r="54" fill="#CF8A72" stroke="#B46A58" stroke-width="5" stroke-opacity="0.5"/><circle cx="1298" cy="102" r="22" fill="#E2AA92" opacity="0.8"/><circle cx="1420" cy="120" r="54" fill="#CF8A72" stroke="#B46A58" stroke-width="5" stroke-opacity="0.5"/><circle cx="1408" cy="102" r="22" fill="#E2AA92" opacity="0.8"/><circle cx="1530" cy="120" r="54" fill="#CF8A72" stroke="#B46A58" stroke-width="5" stroke-opacity="0.5"/><circle cx="1518" cy="102" r="22" fill="#E2AA92" opacity="0.8"/><circle cx="1640" cy="120" r="54" fill="#CF8A72" stroke="#B46A58" stroke-width="5" stroke-opacity="0.5"/><circle cx="1628" cy="102" r="22" fill="#E2AA92" opacity="0.8"/><circle cx="155" cy="215" r="54" fill="#CF8A72" stroke="#B46A58" stroke-width="5" stroke-opacity="0.5"/><circle cx="143" cy="197" r="22" fill="#E2AA92" opacity="0.8"/><circle cx="265" cy="215" r="54" fill="#CF8A72" stroke="#B46A58" stroke-width="5" stroke-opacity="0.5"/><circle cx="253" cy="197" r="22" fill="#E2AA92" opacity="0.8"/><circle cx="375" cy="215" r="54" fill="#CF8A72" stroke="#B46A58" stroke-width="5" stroke-opacity="0.5"/><circle cx="363" cy="197" r="22" fill="#E2AA92" opacity="0.8"/><circle cx="485" cy="215" r="54" fill="#CF8A72" stroke="#B46A58" stroke-width="5" stroke-opacity="0.5"/><circle cx="473" cy="197" r="22" fill="#E2AA92" opacity="0.8"/><circle cx="595" cy="215" r="54" fill="#CF8A72" stroke="#B46A58" stroke-width="5" stroke-opacity="0.5"/><circle cx="583" cy="197" r="22" fill="#E2AA92" opacity="0.8"/><circle cx="705" cy="215" r="54" fill="#CF8A72" stroke="#B46A58" stroke-width="5" stroke-opacity="0.5"/><circle cx="693" cy="197" r="22" fill="#E2AA92" opacity="0.8"/><circle cx="815" cy="215" r="54" fill="#CF8A72" stroke="#B46A58" stroke-width="5" stroke-opacity="0.5"/><circle cx="803" cy="197" r="22" fill="#E2AA92" opacity="0.8"/><circle cx="925" cy="215" r="54" fill="#CF8A72" stroke="#B46A58" stroke-width="5" stroke-opacity="0.5"/><circle cx="913" cy="197" r="22" fill="#E2AA92" opacity="0.8"/><circle cx="1035" cy="215" r="54" fill="#CF8A72" stroke="#B46A58" stroke-width="5" stroke-opacity="0.5"/><circle cx="1023" cy="197" r="22" fill="#E2AA92" opacity="0.8"/><circle cx="1145" cy="215" r="54" fill="#CF8A72" stroke="#B46A58" stroke-width="5" stroke-opacity="0.5"/><circle cx="1133" cy="197" r="22" fill="#E2AA92" opacity="0.8"/><circle cx="1255" cy="215" r="54" fill="#CF8A72" stroke="#B46A58" stroke-width="5" stroke-opacity="0.5"/><circle cx="1243" cy="197" r="22" fill="#E2AA92" opacity="0.8"/><circle cx="1365" cy="215" r="54" fill="#CF8A72" stroke="#B46A58" stroke-width="5" stroke-opacity="0.5"/><circle cx="1353" cy="197" r="22" fill="#E2AA92" opacity="0.8"/><circle cx="1475" cy="215" r="54" fill="#CF8A72" stroke="#B46A58" stroke-width="5" stroke-opacity="0.5"/><circle cx="1463" cy="197" r="22" fill="#E2AA92" opacity="0.8"/><circle cx="1585" cy="215" r="54" fill="#CF8A72" stroke="#B46A58" stroke-width="5" stroke-opacity="0.5"/><circle cx="1573" cy="197" r="22" fill="#E2AA92" opacity="0.8"/><circle cx="100" cy="310" r="54" fill="#CF8A72" stroke="#B46A58" stroke-width="5" stroke-opacity="0.5"/><circle cx="88" cy="292" r="22" fill="#E2AA92" opacity="0.8"/><circle cx="210" cy="310" r="54" fill="#CF8A72" stroke="#B46A58" stroke-width="5" stroke-opacity="0.5"/><circle cx="198" cy="292" r="22" fill="#E2AA92" opacity="0.8"/><circle cx="320" cy="310" r="54" fill="#CF8A72" stroke="#B46A58" stroke-width="5" stroke-opacity="0.5"/><circle cx="308" cy="292" r="22" fill="#E2AA92" opacity="0.8"/><circle cx="430" cy="310" r="54" fill="#CF8A72" stroke="#B46A58" stroke-width="5" stroke-opacity="0.5"/><circle cx="418" cy="292" r="22" fill="#E2AA92" opacity="0.8"/><circle cx="540" cy="310" r="54" fill="#CF8A72" stroke="#B46A58" stroke-width="5" stroke-opacity="0.5"/><circle cx="528" cy="292" r="22" fill="#E2AA92" opacity="0.8"/><circle cx="650" cy="310" r="54" fill="#CF8A72" stroke="#B46A58" stroke-width="5" stroke-opacity="0.5"/><circle cx="638" cy="292" r="22" fill="#E2AA92" opacity="0.8"/><circle cx="760" cy="310" r="54" fill="#CF8A72" stroke="#B46A58" stroke-width="5" stroke-opacity="0.5"/><circle cx="748" cy="292" r="22" fill="#E2AA92" opacity="0.8"/><circle cx="870" cy="310" r="54" fill="#CF8A72" stroke="#B46A58" stroke-width="5" stroke-opacity="0.5"/><circle cx="858" cy="292" r="22" fill="#E2AA92" opacity="0.8"/><circle cx="980" cy="310" r="54" fill="#CF8A72" stroke="#B46A58" stroke-width="5" stroke-opacity="0.5"/><circle cx="968" cy="292" r="22" fill="#E2AA92" opacity="0.8"/><circle cx="1090" cy="310" r="54" fill="#CF8A72" stroke="#B46A58" stroke-width="5" stroke-opacity="0.5"/><circle cx="1078" cy="292" r="22" fill="#E2AA92" opacity="0.8"/><circle cx="1200" cy="310" r="54" fill="#CF8A72" stroke="#B46A58" stroke-width="5" stroke-opacity="0.5"/><circle cx="1188" cy="292" r="22" fill="#E2AA92" opacity="0.8"/><circle cx="1310" cy="310" r="54" fill="#CF8A72" stroke="#B46A58" stroke-width="5" stroke-opacity="0.5"/><circle cx="1298" cy="292" r="22" fill="#E2AA92" opacity="0.8"/><circle cx="1420" cy="310" r="54" fill="#CF8A72" stroke="#B46A58" stroke-width="5" stroke-opacity="0.5"/><circle cx="1408" cy="292" r="22" fill="#E2AA92" opacity="0.8"/><circle cx="1530" cy="310" r="54" fill="#CF8A72" stroke="#B46A58" stroke-width="5" stroke-opacity="0.5"/><circle cx="1518" cy="292" r="22" fill="#E2AA92" opacity="0.8"/><circle cx="1640" cy="310" r="54" fill="#CF8A72" stroke="#B46A58" stroke-width="5" stroke-opacity="0.5"/><circle cx="1628" cy="292" r="22" fill="#E2AA92" opacity="0.8"/><circle cx="155" cy="405" r="54" fill="#CF8A72" stroke="#B46A58" stroke-width="5" stroke-opacity="0.5"/><circle cx="143" cy="387" r="22" fill="#E2AA92" opacity="0.8"/><circle cx="265" cy="405" r="54" fill="#CF8A72" stroke="#B46A58" stroke-width="5" stroke-opacity="0.5"/><circle cx="253" cy="387" r="22" fill="#E2AA92" opacity="0.8"/><circle cx="375" cy="405" r="54" fill="#CF8A72" stroke="#B46A58" stroke-width="5" stroke-opacity="0.5"/><circle cx="363" cy="387" r="22" fill="#E2AA92" opacity="0.8"/><circle cx="485" cy="405" r="54" fill="#CF8A72" stroke="#B46A58" stroke-width="5" stroke-opacity="0.5"/><circle cx="473" cy="387" r="22" fill="#E2AA92" opacity="0.8"/><circle cx="595" cy="405" r="54" fill="#CF8A72" stroke="#B46A58" stroke-width="5" stroke-opacity="0.5"/><circle cx="583" cy="387" r="22" fill="#E2AA92" opacity="0.8"/><circle cx="705" cy="405" r="54" fill="#CF8A72" stroke="#B46A58" stroke-width="5" stroke-opacity="0.5"/><circle cx="693" cy="387" r="22" fill="#E2AA92" opacity="0.8"/><circle cx="815" cy="405" r="54" fill="#CF8A72" stroke="#B46A58" stroke-width="5" stroke-opacity="0.5"/><circle cx="803" cy="387" r="22" fill="#E2AA92" opacity="0.8"/><circle cx="925" cy="405" r="54" fill="#CF8A72" stroke="#B46A58" stroke-width="5" stroke-opacity="0.5"/><circle cx="913" cy="387" r="22" fill="#E2AA92" opacity="0.8"/><circle cx="1035" cy="405" r="54" fill="#CF8A72" stroke="#B46A58" stroke-width="5" stroke-opacity="0.5"/><circle cx="1023" cy="387" r="22" fill="#E2AA92" opacity="0.8"/><circle cx="1145" cy="405" r="54" fill="#CF8A72" stroke="#B46A58" stroke-width="5" stroke-opacity="0.5"/><circle cx="1133" cy="387" r="22" fill="#E2AA92" opacity="0.8"/><circle cx="1255" cy="405" r="54" fill="#CF8A72" stroke="#B46A58" stroke-width="5" stroke-opacity="0.5"/><circle cx="1243" cy="387" r="22" fill="#E2AA92" opacity="0.8"/><circle cx="1365" cy="405" r="54" fill="#CF8A72" stroke="#B46A58" stroke-width="5" stroke-opacity="0.5"/><circle cx="1353" cy="387" r="22" fill="#E2AA92" opacity="0.8"/><circle cx="1475" cy="405" r="54" fill="#CF8A72" stroke="#B46A58" stroke-width="5" stroke-opacity="0.5"/><circle cx="1463" cy="387" r="22" fill="#E2AA92" opacity="0.8"/><circle cx="1585" cy="405" r="54" fill="#CF8A72" stroke="#B46A58" stroke-width="5" stroke-opacity="0.5"/><circle cx="1573" cy="387" r="22" fill="#E2AA92" opacity="0.8"/><circle cx="100" cy="500" r="54" fill="#CF8A72" stroke="#B46A58" stroke-width="5" stroke-opacity="0.5"/><circle cx="88" cy="482" r="22" fill="#E2AA92" opacity="0.8"/><circle cx="210" cy="500" r="54" fill="#CF8A72" stroke="#B46A58" stroke-width="5" stroke-opacity="0.5"/><circle cx="198" cy="482" r="22" fill="#E2AA92" opacity="0.8"/><circle cx="320" cy="500" r="54" fill="#CF8A72" stroke="#B46A58" stroke-width="5" stroke-opacity="0.5"/><circle cx="308" cy="482" r="22" fill="#E2AA92" opacity="0.8"/><circle cx="430" cy="500" r="54" fill="#CF8A72" stroke="#B46A58" stroke-width="5" stroke-opacity="0.5"/><circle cx="418" cy="482" r="22" fill="#E2AA92" opacity="0.8"/><circle cx="540" cy="500" r="54" fill="#CF8A72" stroke="#B46A58" stroke-width="5" stroke-opacity="0.5"/><circle cx="528" cy="482" r="22" fill="#E2AA92" opacity="0.8"/><circle cx="650" cy="500" r="54" fill="#CF8A72" stroke="#B46A58" stroke-width="5" stroke-opacity="0.5"/><circle cx="638" cy="482" r="22" fill="#E2AA92" opacity="0.8"/><circle cx="760" cy="500" r="54" fill="#CF8A72" stroke="#B46A58" stroke-width="5" stroke-opacity="0.5"/><circle cx="748" cy="482" r="22" fill="#E2AA92" opacity="0.8"/><circle cx="870" cy="500" r="54" fill="#CF8A72" stroke="#B46A58" stroke-width="5" stroke-opacity="0.5"/><circle cx="858" cy="482" r="22" fill="#E2AA92" opacity="0.8"/><circle cx="980" cy="500" r="54" fill="#CF8A72" stroke="#B46A58" stroke-width="5" stroke-opacity="0.5"/><circle cx="968" cy="482" r="22" fill="#E2AA92" opacity="0.8"/><circle cx="1090" cy="500" r="54" fill="#CF8A72" stroke="#B46A58" stroke-width="5" stroke-opacity="0.5"/><circle cx="1078" cy="482" r="22" fill="#E2AA92" opacity="0.8"/><circle cx="1200" cy="500" r="54" fill="#CF8A72" stroke="#B46A58" stroke-width="5" stroke-opacity="0.5"/><circle cx="1188" cy="482" r="22" fill="#E2AA92" opacity="0.8"/><circle cx="1310" cy="500" r="54" fill="#CF8A72" stroke="#B46A58" stroke-width="5" stroke-opacity="0.5"/><circle cx="1298" cy="482" r="22" fill="#E2AA92" opacity="0.8"/><circle cx="1420" cy="500" r="54" fill="#CF8A72" stroke="#B46A58" stroke-width="5" stroke-opacity="0.5"/><circle cx="1408" cy="482" r="22" fill="#E2AA92" opacity="0.8"/><circle cx="1530" cy="500" r="54" fill="#CF8A72" stroke="#B46A58" stroke-width="5" stroke-opacity="0.5"/><circle cx="1518" cy="482" r="22" fill="#E2AA92" opacity="0.8"/><circle cx="1640" cy="500" r="54" fill="#CF8A72" stroke="#B46A58" stroke-width="5" stroke-opacity="0.5"/><circle cx="1628" cy="482" r="22" fill="#E2AA92" opacity="0.8"/><circle cx="155" cy="595" r="54" fill="#CF8A72" stroke="#B46A58" stroke-width="5" stroke-opacity="0.5"/><circle cx="143" cy="577" r="22" fill="#E2AA92" opacity="0.8"/><circle cx="265" cy="595" r="54" fill="#CF8A72" stroke="#B46A58" stroke-width="5" stroke-opacity="0.5"/><circle cx="253" cy="577" r="22" fill="#E2AA92" opacity="0.8"/><circle cx="375" cy="595" r="54" fill="#CF8A72" stroke="#B46A58" stroke-width="5" stroke-opacity="0.5"/><circle cx="363" cy="577" r="22" fill="#E2AA92" opacity="0.8"/><circle cx="485" cy="595" r="54" fill="#CF8A72" stroke="#B46A58" stroke-width="5" stroke-opacity="0.5"/><circle cx="473" cy="577" r="22" fill="#E2AA92" opacity="0.8"/><circle cx="595" cy="595" r="54" fill="#CF8A72" stroke="#B46A58" stroke-width="5" stroke-opacity="0.5"/><circle cx="583" cy="577" r="22" fill="#E2AA92" opacity="0.8"/><circle cx="705" cy="595" r="54" fill="#CF8A72" stroke="#B46A58" stroke-width="5" stroke-opacity="0.5"/><circle cx="693" cy="577" r="22" fill="#E2AA92" opacity="0.8"/><circle cx="815" cy="595" r="54" fill="#CF8A72" stroke="#B46A58" stroke-width="5" stroke-opacity="0.5"/><circle cx="803" cy="577" r="22" fill="#E2AA92" opacity="0.8"/><circle cx="925" cy="595" r="54" fill="#CF8A72" stroke="#B46A58" stroke-width="5" stroke-opacity="0.5"/><circle cx="913" cy="577" r="22" fill="#E2AA92" opacity="0.8"/><circle cx="1035" cy="595" r="54" fill="#CF8A72" stroke="#B46A58" stroke-width="5" stroke-opacity="0.5"/><circle cx="1023" cy="577" r="22" fill="#E2AA92" opacity="0.8"/><circle cx="1145" cy="595" r="54" fill="#CF8A72" stroke="#B46A58" stroke-width="5" stroke-opacity="0.5"/><circle cx="1133" cy="577" r="22" fill="#E2AA92" opacity="0.8"/><circle cx="1255" cy="595" r="54" fill="#CF8A72" stroke="#B46A58" stroke-width="5" stroke-opacity="0.5"/><circle cx="1243" cy="577" r="22" fill="#E2AA92" opacity="0.8"/><circle cx="1365" cy="595" r="54" fill="#CF8A72" stroke="#B46A58" stroke-width="5" stroke-opacity="0.5"/><circle cx="1353" cy="577" r="22" fill="#E2AA92" opacity="0.8"/><circle cx="1475" cy="595" r="54" fill="#CF8A72" stroke="#B46A58" stroke-width="5" stroke-opacity="0.5"/><circle cx="1463" cy="577" r="22" fill="#E2AA92" opacity="0.8"/><circle cx="1585" cy="595" r="54" fill="#CF8A72" stroke="#B46A58" stroke-width="5" stroke-opacity="0.5"/><circle cx="1573" cy="577" r="22" fill="#E2AA92" opacity="0.8"/><circle cx="100" cy="690" r="54" fill="#CF8A72" stroke="#B46A58" stroke-width="5" stroke-opacity="0.5"/><circle cx="88" cy="672" r="22" fill="#E2AA92" opacity="0.8"/><circle cx="210" cy="690" r="54" fill="#CF8A72" stroke="#B46A58" stroke-width="5" stroke-opacity="0.5"/><circle cx="198" cy="672" r="22" fill="#E2AA92" opacity="0.8"/><circle cx="320" cy="690" r="54" fill="#CF8A72" stroke="#B46A58" stroke-width="5" stroke-opacity="0.5"/><circle cx="308" cy="672" r="22" fill="#E2AA92" opacity="0.8"/><circle cx="430" cy="690" r="54" fill="#CF8A72" stroke="#B46A58" stroke-width="5" stroke-opacity="0.5"/><circle cx="418" cy="672" r="22" fill="#E2AA92" opacity="0.8"/><circle cx="540" cy="690" r="54" fill="#CF8A72" stroke="#B46A58" stroke-width="5" stroke-opacity="0.5"/><circle cx="528" cy="672" r="22" fill="#E2AA92" opacity="0.8"/><circle cx="650" cy="690" r="54" fill="#CF8A72" stroke="#B46A58" stroke-width="5" stroke-opacity="0.5"/><circle cx="638" cy="672" r="22" fill="#E2AA92" opacity="0.8"/><circle cx="760" cy="690" r="54" fill="#CF8A72" stroke="#B46A58" stroke-width="5" stroke-opacity="0.5"/><circle cx="748" cy="672" r="22" fill="#E2AA92" opacity="0.8"/><circle cx="870" cy="690" r="54" fill="#CF8A72" stroke="#B46A58" stroke-width="5" stroke-opacity="0.5"/><circle cx="858" cy="672" r="22" fill="#E2AA92" opacity="0.8"/><circle cx="980" cy="690" r="54" fill="#CF8A72" stroke="#B46A58" stroke-width="5" stroke-opacity="0.5"/><circle cx="968" cy="672" r="22" fill="#E2AA92" opacity="0.8"/><circle cx="1090" cy="690" r="54" fill="#CF8A72" stroke="#B46A58" stroke-width="5" stroke-opacity="0.5"/><circle cx="1078" cy="672" r="22" fill="#E2AA92" opacity="0.8"/><circle cx="1200" cy="690" r="54" fill="#CF8A72" stroke="#B46A58" stroke-width="5" stroke-opacity="0.5"/><circle cx="1188" cy="672" r="22" fill="#E2AA92" opacity="0.8"/><circle cx="1310" cy="690" r="54" fill="#CF8A72" stroke="#B46A58" stroke-width="5" stroke-opacity="0.5"/><circle cx="1298" cy="672" r="22" fill="#E2AA92" opacity="0.8"/><circle cx="1420" cy="690" r="54" fill="#CF8A72" stroke="#B46A58" stroke-width="5" stroke-opacity="0.5"/><circle cx="1408" cy="672" r="22" fill="#E2AA92" opacity="0.8"/><circle cx="1530" cy="690" r="54" fill="#CF8A72" stroke="#B46A58" stroke-width="5" stroke-opacity="0.5"/><circle cx="1518" cy="672" r="22" fill="#E2AA92" opacity="0.8"/><circle cx="1640" cy="690" r="54" fill="#CF8A72" stroke="#B46A58" stroke-width="5" stroke-opacity="0.5"/><circle cx="1628" cy="672" r="22" fill="#E2AA92" opacity="0.8"/><circle cx="155" cy="785" r="54" fill="#CF8A72" stroke="#B46A58" stroke-width="5" stroke-opacity="0.5"/><circle cx="143" cy="767" r="22" fill="#E2AA92" opacity="0.8"/><circle cx="265" cy="785" r="54" fill="#CF8A72" stroke="#B46A58" stroke-width="5" stroke-opacity="0.5"/><circle cx="253" cy="767" r="22" fill="#E2AA92" opacity="0.8"/><circle cx="375" cy="785" r="54" fill="#CF8A72" stroke="#B46A58" stroke-width="5" stroke-opacity="0.5"/><circle cx="363" cy="767" r="22" fill="#E2AA92" opacity="0.8"/><circle cx="485" cy="785" r="54" fill="#CF8A72" stroke="#B46A58" stroke-width="5" stroke-opacity="0.5"/><circle cx="473" cy="767" r="22" fill="#E2AA92" opacity="0.8"/><circle cx="595" cy="785" r="54" fill="#CF8A72" stroke="#B46A58" stroke-width="5" stroke-opacity="0.5"/><circle cx="583" cy="767" r="22" fill="#E2AA92" opacity="0.8"/><circle cx="705" cy="785" r="54" fill="#CF8A72" stroke="#B46A58" stroke-width="5" stroke-opacity="0.5"/><circle cx="693" cy="767" r="22" fill="#E2AA92" opacity="0.8"/><circle cx="815" cy="785" r="54" fill="#CF8A72" stroke="#B46A58" stroke-width="5" stroke-opacity="0.5"/><circle cx="803" cy="767" r="22" fill="#E2AA92" opacity="0.8"/><circle cx="925" cy="785" r="54" fill="#CF8A72" stroke="#B46A58" stroke-width="5" stroke-opacity="0.5"/><circle cx="913" cy="767" r="22" fill="#E2AA92" opacity="0.8"/><circle cx="1035" cy="785" r="54" fill="#CF8A72" stroke="#B46A58" stroke-width="5" stroke-opacity="0.5"/><circle cx="1023" cy="767" r="22" fill="#E2AA92" opacity="0.8"/><circle cx="1145" cy="785" r="54" fill="#CF8A72" stroke="#B46A58" stroke-width="5" stroke-opacity="0.5"/><circle cx="1133" cy="767" r="22" fill="#E2AA92" opacity="0.8"/><circle cx="1255" cy="785" r="54" fill="#CF8A72" stroke="#B46A58" stroke-width="5" stroke-opacity="0.5"/><circle cx="1243" cy="767" r="22" fill="#E2AA92" opacity="0.8"/><circle cx="1365" cy="785" r="54" fill="#CF8A72" stroke="#B46A58" stroke-width="5" stroke-opacity="0.5"/><circle cx="1353" cy="767" r="22" fill="#E2AA92" opacity="0.8"/><circle cx="1475" cy="785" r="54" fill="#CF8A72" stroke="#B46A58" stroke-width="5" stroke-opacity="0.5"/><circle cx="1463" cy="767" r="22" fill="#E2AA92" opacity="0.8"/><circle cx="1585" cy="785" r="54" fill="#CF8A72" stroke="#B46A58" stroke-width="5" stroke-opacity="0.5"/><circle cx="1573" cy="767" r="22" fill="#E2AA92" opacity="0.8"/><circle cx="100" cy="880" r="54" fill="#CF8A72" stroke="#B46A58" stroke-width="5" stroke-opacity="0.5"/><circle cx="88" cy="862" r="22" fill="#E2AA92" opacity="0.8"/><circle cx="210" cy="880" r="54" fill="#CF8A72" stroke="#B46A58" stroke-width="5" stroke-opacity="0.5"/><circle cx="198" cy="862" r="22" fill="#E2AA92" opacity="0.8"/><circle cx="320" cy="880" r="54" fill="#CF8A72" stroke="#B46A58" stroke-width="5" stroke-opacity="0.5"/><circle cx="308" cy="862" r="22" fill="#E2AA92" opacity="0.8"/><circle cx="430" cy="880" r="54" fill="#CF8A72" stroke="#B46A58" stroke-width="5" stroke-opacity="0.5"/><circle cx="418" cy="862" r="22" fill="#E2AA92" opacity="0.8"/><circle cx="540" cy="880" r="54" fill="#CF8A72" stroke="#B46A58" stroke-width="5" stroke-opacity="0.5"/><circle cx="528" cy="862" r="22" fill="#E2AA92" opacity="0.8"/><circle cx="650" cy="880" r="54" fill="#CF8A72" stroke="#B46A58" stroke-width="5" stroke-opacity="0.5"/><circle cx="638" cy="862" r="22" fill="#E2AA92" opacity="0.8"/><circle cx="760" cy="880" r="54" fill="#CF8A72" stroke="#B46A58" stroke-width="5" stroke-opacity="0.5"/><circle cx="748" cy="862" r="22" fill="#E2AA92" opacity="0.8"/><circle cx="870" cy="880" r="54" fill="#CF8A72" stroke="#B46A58" stroke-width="5" stroke-opacity="0.5"/><circle cx="858" cy="862" r="22" fill="#E2AA92" opacity="0.8"/><circle cx="980" cy="880" r="54" fill="#CF8A72" stroke="#B46A58" stroke-width="5" stroke-opacity="0.5"/><circle cx="968" cy="862" r="22" fill="#E2AA92" opacity="0.8"/><circle cx="1090" cy="880" r="54" fill="#CF8A72" stroke="#B46A58" stroke-width="5" stroke-opacity="0.5"/><circle cx="1078" cy="862" r="22" fill="#E2AA92" opacity="0.8"/><circle cx="1200" cy="880" r="54" fill="#CF8A72" stroke="#B46A58" stroke-width="5" stroke-opacity="0.5"/><circle cx="1188" cy="862" r="22" fill="#E2AA92" opacity="0.8"/><circle cx="1310" cy="880" r="54" fill="#CF8A72" stroke="#B46A58" stroke-width="5" stroke-opacity="0.5"/><circle cx="1298" cy="862" r="22" fill="#E2AA92" opacity="0.8"/><circle cx="1420" cy="880" r="54" fill="#CF8A72" stroke="#B46A58" stroke-width="5" stroke-opacity="0.5"/><circle cx="1408" cy="862" r="22" fill="#E2AA92" opacity="0.8"/><circle cx="1530" cy="880" r="54" fill="#CF8A72" stroke="#B46A58" stroke-width="5" stroke-opacity="0.5"/><circle cx="1518" cy="862" r="22" fill="#E2AA92" opacity="0.8"/><circle cx="1640" cy="880" r="54" fill="#CF8A72" stroke="#B46A58" stroke-width="5" stroke-opacity="0.5"/><circle cx="1628" cy="862" r="22" fill="#E2AA92" opacity="0.8"/><circle cx="155" cy="975" r="54" fill="#CF8A72" stroke="#B46A58" stroke-width="5" stroke-opacity="0.5"/><circle cx="143" cy="957" r="22" fill="#E2AA92" opacity="0.8"/><circle cx="265" cy="975" r="54" fill="#CF8A72" stroke="#B46A58" stroke-width="5" stroke-opacity="0.5"/><circle cx="253" cy="957" r="22" fill="#E2AA92" opacity="0.8"/><circle cx="375" cy="975" r="54" fill="#CF8A72" stroke="#B46A58" stroke-width="5" stroke-opacity="0.5"/><circle cx="363" cy="957" r="22" fill="#E2AA92" opacity="0.8"/><circle cx="485" cy="975" r="54" fill="#CF8A72" stroke="#B46A58" stroke-width="5" stroke-opacity="0.5"/><circle cx="473" cy="957" r="22" fill="#E2AA92" opacity="0.8"/><circle cx="595" cy="975" r="54" fill="#CF8A72" stroke="#B46A58" stroke-width="5" stroke-opacity="0.5"/><circle cx="583" cy="957" r="22" fill="#E2AA92" opacity="0.8"/><circle cx="705" cy="975" r="54" fill="#CF8A72" stroke="#B46A58" stroke-width="5" stroke-opacity="0.5"/><circle cx="693" cy="957" r="22" fill="#E2AA92" opacity="0.8"/><circle cx="815" cy="975" r="54" fill="#CF8A72" stroke="#B46A58" stroke-width="5" stroke-opacity="0.5"/><circle cx="803" cy="957" r="22" fill="#E2AA92" opacity="0.8"/><circle cx="925" cy="975" r="54" fill="#CF8A72" stroke="#B46A58" stroke-width="5" stroke-opacity="0.5"/><circle cx="913" cy="957" r="22" fill="#E2AA92" opacity="0.8"/><circle cx="1035" cy="975" r="54" fill="#CF8A72" stroke="#B46A58" stroke-width="5" stroke-opacity="0.5"/><circle cx="1023" cy="957" r="22" fill="#E2AA92" opacity="0.8"/><circle cx="1145" cy="975" r="54" fill="#CF8A72" stroke="#B46A58" stroke-width="5" stroke-opacity="0.5"/><circle cx="1133" cy="957" r="22" fill="#E2AA92" opacity="0.8"/><circle cx="1255" cy="975" r="54" fill="#CF8A72" stroke="#B46A58" stroke-width="5" stroke-opacity="0.5"/><circle cx="1243" cy="957" r="22" fill="#E2AA92" opacity="0.8"/><circle cx="1365" cy="975" r="54" fill="#CF8A72" stroke="#B46A58" stroke-width="5" stroke-opacity="0.5"/><circle cx="1353" cy="957" r="22" fill="#E2AA92" opacity="0.8"/><circle cx="1475" cy="975" r="54" fill="#CF8A72" stroke="#B46A58" stroke-width="5" stroke-opacity="0.5"/><circle cx="1463" cy="957" r="22" fill="#E2AA92" opacity="0.8"/><circle cx="1585" cy="975" r="54" fill="#CF8A72" stroke="#B46A58" stroke-width="5" stroke-opacity="0.5"/><circle cx="1573" cy="957" r="22" fill="#E2AA92" opacity="0.8"/><circle cx="100" cy="1070" r="54" fill="#CF8A72" stroke="#B46A58" stroke-width="5" stroke-opacity="0.5"/><circle cx="88" cy="1052" r="22" fill="#E2AA92" opacity="0.8"/><circle cx="210" cy="1070" r="54" fill="#CF8A72" stroke="#B46A58" stroke-width="5" stroke-opacity="0.5"/><circle cx="198" cy="1052" r="22" fill="#E2AA92" opacity="0.8"/><circle cx="320" cy="1070" r="54" fill="#CF8A72" stroke="#B46A58" stroke-width="5" stroke-opacity="0.5"/><circle cx="308" cy="1052" r="22" fill="#E2AA92" opacity="0.8"/><circle cx="430" cy="1070" r="54" fill="#CF8A72" stroke="#B46A58" stroke-width="5" stroke-opacity="0.5"/><circle cx="418" cy="1052" r="22" fill="#E2AA92" opacity="0.8"/><circle cx="540" cy="1070" r="54" fill="#CF8A72" stroke="#B46A58" stroke-width="5" stroke-opacity="0.5"/><circle cx="528" cy="1052" r="22" fill="#E2AA92" opacity="0.8"/><circle cx="650" cy="1070" r="54" fill="#CF8A72" stroke="#B46A58" stroke-width="5" stroke-opacity="0.5"/><circle cx="638" cy="1052" r="22" fill="#E2AA92" opacity="0.8"/><circle cx="760" cy="1070" r="54" fill="#CF8A72" stroke="#B46A58" stroke-width="5" stroke-opacity="0.5"/><circle cx="748" cy="1052" r="22" fill="#E2AA92" opacity="0.8"/><circle cx="870" cy="1070" r="54" fill="#CF8A72" stroke="#B46A58" stroke-width="5" stroke-opacity="0.5"/><circle cx="858" cy="1052" r="22" fill="#E2AA92" opacity="0.8"/><circle cx="980" cy="1070" r="54" fill="#CF8A72" stroke="#B46A58" stroke-width="5" stroke-opacity="0.5"/><circle cx="968" cy="1052" r="22" fill="#E2AA92" opacity="0.8"/><circle cx="1090" cy="1070" r="54" fill="#CF8A72" stroke="#B46A58" stroke-width="5" stroke-opacity="0.5"/><circle cx="1078" cy="1052" r="22" fill="#E2AA92" opacity="0.8"/><circle cx="1200" cy="1070" r="54" fill="#CF8A72" stroke="#B46A58" stroke-width="5" stroke-opacity="0.5"/><circle cx="1188" cy="1052" r="22" fill="#E2AA92" opacity="0.8"/><circle cx="1310" cy="1070" r="54" fill="#CF8A72" stroke="#B46A58" stroke-width="5" stroke-opacity="0.5"/><circle cx="1298" cy="1052" r="22" fill="#E2AA92" opacity="0.8"/><circle cx="1420" cy="1070" r="54" fill="#CF8A72" stroke="#B46A58" stroke-width="5" stroke-opacity="0.5"/><circle cx="1408" cy="1052" r="22" fill="#E2AA92" opacity="0.8"/><circle cx="1530" cy="1070" r="54" fill="#CF8A72" stroke="#B46A58" stroke-width="5" stroke-opacity="0.5"/><circle cx="1518" cy="1052" r="22" fill="#E2AA92" opacity="0.8"/><circle cx="1640" cy="1070" r="54" fill="#CF8A72" stroke="#B46A58" stroke-width="5" stroke-opacity="0.5"/><circle cx="1628" cy="1052" r="22" fill="#E2AA92" opacity="0.8"/></g>
<defs><filter id="blurP" x="-30%" y="-30%" width="160%" height="160%"><feGaussianBlur stdDeviation="12"/></filter></defs><g filter="url(#blurP)">
<path d="M570,360 L680,330 L800,370 L700,420 L660,440 L620,400 Z" fill="#A03A32"/><path d="M770,600 L880,560 L1010,570 L920,620 L820,660 Z" fill="#A03A32"/><path d="M370,720 L480,690 L560,760 L520,820 L400,800 Z" fill="#A03A32"/></g>
</g>
<text x="178.8" y="601.7" font-size="27" text-anchor="middle" letter-spacing="0.4"><tspan font-weight="bold">Basophil</tspan></text>
<text x="178.85" y="635" font-size="27" text-anchor="middle" letter-spacing="0.4"><tspan font-weight="bold">counts</tspan></text>
<text x="388.25" y="597.7" font-size="27" text-anchor="middle" letter-spacing="0.4"><tspan font-weight="bold">Eosinophil</tspan></text>
<text x="388.1" y="634" font-size="27" text-anchor="middle" letter-spacing="0.4"><tspan font-weight="bold">counts</tspan></text>
<text x="603" y="597.3" font-size="27" text-anchor="middle" letter-spacing="0.4"><tspan font-weight="bold">Lymphocyte</tspan></text>
<text x="602.5" y="630.5" font-size="27" text-anchor="middle" letter-spacing="0.4"><tspan font-weight="bold">counts</tspan></text>
<text x="304.4" y="782.3" font-size="27" text-anchor="middle" letter-spacing="0.4"><tspan font-weight="bold">Monocyte</tspan></text>
<text x="304.25" y="814.6" font-size="27" text-anchor="middle" letter-spacing="0.4"><tspan font-weight="bold">counts</tspan></text>
<text x="513.65" y="783.3" font-size="27" text-anchor="middle" letter-spacing="0.4"><tspan font-weight="bold">Neutrophil</tspan></text>
<text x="513" y="816.25" font-size="27" text-anchor="middle" letter-spacing="0.4"><tspan font-weight="bold">counts</tspan></text>
<text x="959.68" y="704.4" font-size="31"><tspan font-weight="bold">ESCA</tspan></text>
<text x="1200.77" y="704" font-size="31"><tspan font-weight="bold">GC</tspan></text>
<text x="1438.15" y="703.6" font-size="31"><tspan font-weight="bold">CRC</tspan></text>
<text x="1076.78" y="883" font-size="31"><tspan font-weight="bold">LC</tspan></text>
<text x="1302.8" y="883" font-size="31"><tspan font-weight="bold">PC</tspan></text>
<text x="168.7" y="983.6" font-size="39.5"><tspan font-weight="bold">Data for white blood cells</tspan></text>
<rect x="51.9" y="1007.4" width="713.6" height="487.6" rx="80" fill="#BDD7EE" stroke="#2B5095" stroke-width="4"/>
<text x="87.74" y="1054.9" font-size="35.5"><tspan font-weight="bold">Summary-level data</tspan><tspan>:</tspan></text>
<text x="95.29" y="1103.9" font-size="35.5"><tspan font-weight="bold">East Asian cohort:</tspan><tspan> Individuals of East</tspan></text>
<text x="96.0" y="1146.5" font-size="35.5"><tspan>Asian ancestry from study of Kanai M et</tspan></text>
<text x="96.2" y="1189.0" font-size="35.5"><tspan>al. (Sample size: White blood cell:</tspan></text>
<text y="1231.8" font-size="35.5"><tspan x="95.64">107,964;</tspan><tspan x="263.66">Basophil, eosinophil,</tspan></text>
<text x="95.3" y="1274.7" font-size="35.5"><tspan>lymphocyte, monocyte, and neutrophil</tspan></text>
<text x="96.18" y="1317.0" font-size="35.5"><tspan>cells: 62,076)</tspan></text>
<text x="92.19" y="1369.5" font-size="35.5"><tspan font-weight="bold">European cohort:</tspan><tspan> Individuals of</tspan></text>
<text x="91.66" y="1412.6" font-size="35.5"><tspan>European ancestry from study of</tspan></text>
<text x="93.7" y="1455.3" font-size="35.5"><tspan>Vuckovic D et al. (Sample size: 563,946)</tspan></text>
<text x="918.1" y="956.7" font-size="39.5"><tspan font-weight="bold">Data for five digestive tract cancers</tspan></text>
<text x="827.7" y="994.8" font-size="35.3"><tspan font-weight="bold">Summary-level data</tspan><tspan>:</tspan></text>
<rect x="819.0" y="1021.0" width="904.5" height="281.5" fill="#FFD966"/>
<rect x="997.5" y="1236.8" width="726.0" height="65.70000000000005" fill="#FFE699"/>
<rect x="819.0" y="1302.5" width="904.5" height="68.09999999999991" fill="#FFF2CC"/>
<rect x="819.0" y="1370.6" width="904.5" height="65.40000000000009" fill="#FFE699"/>
<rect x="819.0" y="1436.0" width="904.5" height="67.0" fill="#FFF2CC"/>
<rect x="819.0" y="1503.0" width="904.5" height="65.75" fill="#FFE699"/>
<rect x="819.0" y="1568.75" width="904.5" height="63.75" fill="#FFF2CC"/>
<rect x="817.0" y="1019.0" width="908.5" height="615.5" fill="none" stroke="#2B5095" stroke-width="4"/>
<text x="842.5" y="1171.9" font-size="31.45"><tspan font-weight="bold">Cancers</tspan></text>
<text x="1190.4" y="1070" font-size="39.6" text-anchor="middle"><tspan font-weight="bold">East Asian</tspan></text>
<text x="1190.4" y="1117.2" font-size="39.6" text-anchor="middle"><tspan font-weight="bold">individuals</tspan></text>
<text x="1190.4" y="1164.7" font-size="39.6" text-anchor="middle"><tspan font-weight="bold">(Study of</tspan></text>
<text x="1190.4" y="1212.5" font-size="39.6" text-anchor="middle"><tspan font-weight="bold">Ishigaki K et al. )</tspan></text>
<text x="1554.7" y="1093.8" font-size="39.6" text-anchor="middle"><tspan font-weight="bold">European</tspan></text>
<text x="1554.7" y="1141.5" font-size="39.6" text-anchor="middle"><tspan font-weight="bold">individuals</tspan></text>
<text x="1554.7" y="1188.7" font-size="39.6" text-anchor="middle"><tspan font-weight="bold">(FinnGen)</tspan></text>
<text x="1090.3" y="1280.3" font-size="31.5" text-anchor="middle"><tspan>Cases</tspan></text>
<text x="1283.0" y="1280.3" font-size="31.5" text-anchor="middle"><tspan>Controls</tspan></text>
<text x="1461.0" y="1280.3" font-size="31.5" text-anchor="middle"><tspan>Cases</tspan></text>
<text x="1633.0" y="1280.3" font-size="31.5" text-anchor="middle"><tspan>Controls</tspan></text>
<text x="841.71" y="1347.8" font-size="31.4"><tspan font-weight="bold">ESCA</tspan></text>
<text x="1090.3" y="1347.8" font-size="31.3" text-anchor="middle"><tspan>1,300</tspan></text>
<text x="1283.0" y="1347.8" font-size="31.3" text-anchor="middle"><tspan>195,745</tspan></text>
<text x="1461.0" y="1347.8" font-size="31.3" text-anchor="middle"><tspan>232</tspan></text>
<text x="1633.0" y="1347.8" font-size="31.3" text-anchor="middle"><tspan>174,006</tspan></text>
<text x="842.49" y="1414.0" font-size="31.4"><tspan font-weight="bold">GC</tspan></text>
<text x="1090.3" y="1414.0" font-size="31.3" text-anchor="middle"><tspan>6,563</tspan></text>
<text x="1283.0" y="1414.0" font-size="31.3" text-anchor="middle"><tspan>195,745</tspan></text>
<text x="1461.0" y="1414.0" font-size="31.3" text-anchor="middle"><tspan>633</tspan></text>
<text x="1633.0" y="1414.0" font-size="31.3" text-anchor="middle"><tspan>174,006</tspan></text>
<text x="842.49" y="1479.7" font-size="31.4"><tspan font-weight="bold">CRC</tspan></text>
<text x="1090.3" y="1479.7" font-size="31.3" text-anchor="middle"><tspan>7,062</tspan></text>
<text x="1283.0" y="1479.7" font-size="31.3" text-anchor="middle"><tspan>195,745</tspan></text>
<text x="1461.0" y="1479.7" font-size="31.3" text-anchor="middle"><tspan>3,022</tspan></text>
<text x="1633.0" y="1479.7" font-size="31.3" text-anchor="middle"><tspan>174,006</tspan></text>
<text x="841.71" y="1546.0" font-size="31.4"><tspan font-weight="bold">LC</tspan></text>
<text x="1090.3" y="1546.0" font-size="31.3" text-anchor="middle"><tspan>1,866</tspan></text>
<text x="1283.0" y="1546.0" font-size="31.3" text-anchor="middle"><tspan>195,745</tspan></text>
<text x="1461.0" y="1546.0" font-size="31.3" text-anchor="middle"><tspan>304</tspan></text>
<text x="1633.0" y="1546.0" font-size="31.3" text-anchor="middle"><tspan>174,006</tspan></text>
<text x="841.71" y="1612.5" font-size="31.4"><tspan font-weight="bold">PC</tspan></text>
<text x="1090.3" y="1612.5" font-size="31.3" text-anchor="middle"><tspan>442</tspan></text>
<text x="1283.0" y="1612.5" font-size="31.3" text-anchor="middle"><tspan>195,745</tspan></text>
<text x="1461.0" y="1612.5" font-size="31.3" text-anchor="middle"><tspan>605</tspan></text>
<text x="1633.0" y="1612.5" font-size="31.3" text-anchor="middle"><tspan>174,006</tspan></text>
<rect x="168" y="1758.5" width="1500" height="410.5" fill="#FFFFFF" stroke="#2B5095" stroke-width="4"/>
<text x="194.2" y="1805.2" font-size="35.5"><tspan>Statistical analysis:</tspan></text>
<text x="250.3" y="1867.9" font-size="35.5"><tspan font-weight="bold">Mendelian</tspan></text>
<text x="250.3" y="1910.3" font-size="35.5"><tspan font-weight="bold">Randomization</tspan></text>
<text x="251.54" y="1963.5" font-size="35.5"><tspan font-style="italic">MR-IVW</tspan><tspan> (main</tspan></text>
<text x="250.58" y="2006.4" font-size="35.5"><tspan>analysis)</tspan><tspan font-style="italic">;</tspan></text>
<text x="251.5" y="2048.2" font-size="35.5"><tspan font-style="italic">MR-Egger;</tspan></text>
<text x="249.58" y="2091.0" font-size="35.5"><tspan font-style="italic">Weighted median;</tspan></text>
<text x="613.0" y="1874.8" font-size="35.5"><tspan font-weight="bold">Multiple</tspan></text>
<text x="613.0" y="1916.8" font-size="35.5"><tspan font-weight="bold">comparison</tspan></text>
<text x="613.0" y="1959.3" font-size="35.5"><tspan font-weight="bold">adjustment</tspan></text>
<text x="612.0" y="2015.8" font-size="35.5"><tspan font-style="italic">Benjamini-</tspan></text>
<text x="612.0" y="2058.3" font-size="35.5"><tspan font-style="italic">Hochberg</tspan></text>
<text x="612.0" y="2100.8" font-size="35.5"><tspan font-style="italic">false discovery</tspan></text>
<text x="612.0" y="2143.4" font-size="35.5"><tspan font-style="italic">rate correction;</tspan></text>
<text x="895.8" y="1877.0" font-size="35.5"><tspan font-weight="bold">Measures of</tspan></text>
<text x="895.8" y="1920.0" font-size="35.5"><tspan font-weight="bold">instrument</tspan></text>
<text x="895.8" y="1962.6" font-size="35.5"><tspan font-weight="bold">strength</tspan></text>
<text x="894.6" y="2021.5" font-size="35.5"><tspan font-style="italic">F-statistic; r2</tspan></text>
<text x="1198.1" y="1877.7" font-size="35.5"><tspan font-weight="bold">Sensitivity analysis</tspan></text>
<text x="1198.6" y="1923.9" font-size="35.5" font-style="italic">Cochrane's Q-test<tspan dx="4" fill="#444">;</tspan></text>
<text x="1198.6" y="1966.4" font-size="35.5" font-style="italic">Egger intercept<tspan dx="4" fill="#444">;</tspan></text>
<text x="1198.6" y="2009.0" font-size="35.5" font-style="italic">MR-PRESSO global test<tspan dx="4" fill="#444">;</tspan></text>
<text x="1198.6" y="2051.5" font-size="35.5" font-style="italic">Leave-one-out test<tspan dx="4" fill="#444">;</tspan></text>
</svg></body></html>
